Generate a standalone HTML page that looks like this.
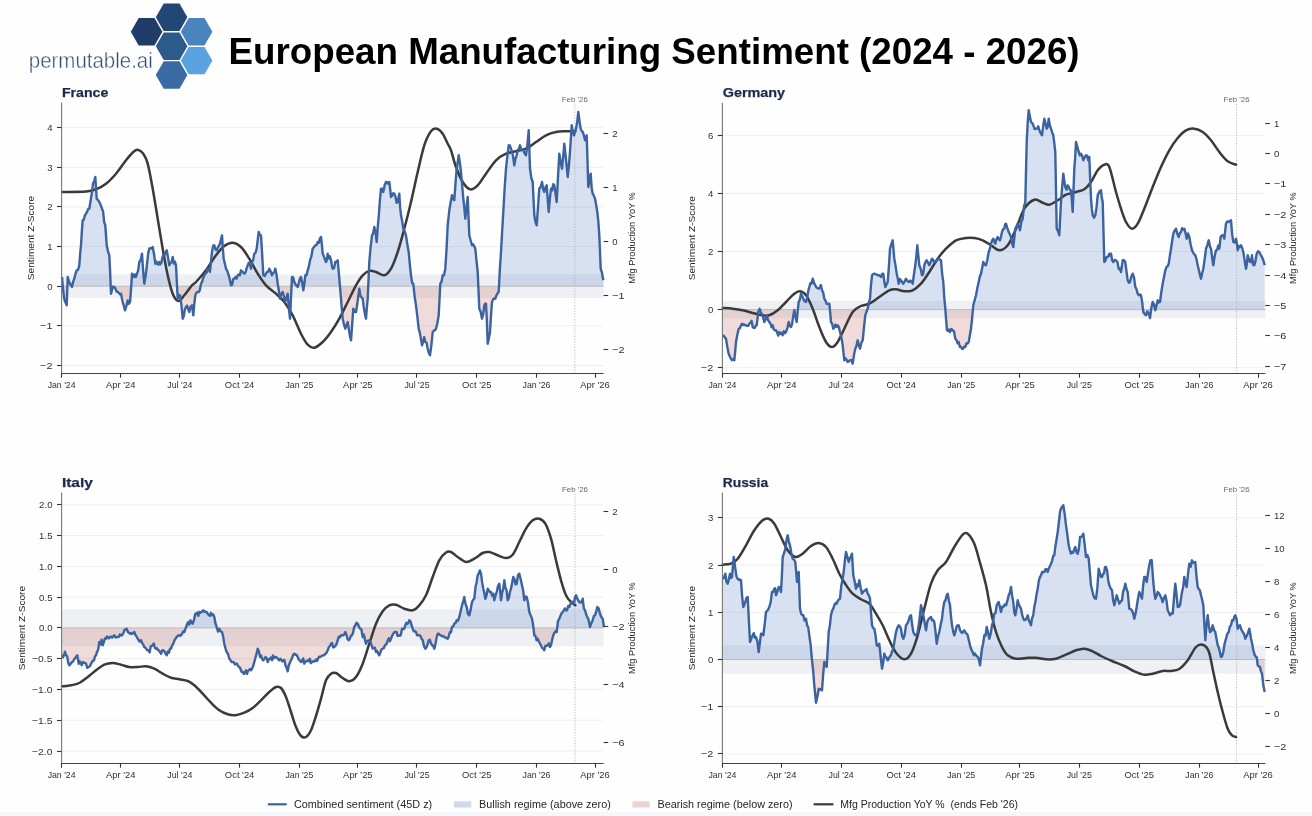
<!DOCTYPE html>
<html><head><meta charset="utf-8"><style>
html,body{margin:0;padding:0;background:#fff;width:1312px;height:816px;overflow:hidden;}
svg{display:block;font-family:"Liberation Sans", sans-serif;will-change:transform;}
</style></head><body>
<svg width="1312" height="816" viewBox="0 0 1312 816">
<rect x="0" y="0" width="1312" height="816" fill="#fefefe"/>
<rect x="0" y="812" width="1312" height="4" fill="#f5f7fc"/>
<text x="28.8" y="68" font-size="21.8" fill="#2c4a72" stroke="#ffffff" stroke-width="0.45" textLength="124" lengthAdjust="spacingAndGlyphs">permutable.ai</text>
<text x="228.6" y="64.2" font-size="37.6" font-weight="bold" fill="#000" textLength="851" lengthAdjust="spacingAndGlyphs">European Manufacturing Sentiment (2024 - 2026)</text>
<line x1="61.6" y1="365.50" x2="603.6" y2="365.50" stroke="#ebebeb" stroke-width="0.8"/>
<line x1="61.6" y1="325.85" x2="603.6" y2="325.85" stroke="#ebebeb" stroke-width="0.8"/>
<line x1="61.6" y1="286.20" x2="603.6" y2="286.20" stroke="#ebebeb" stroke-width="0.8"/>
<line x1="61.6" y1="246.55" x2="603.6" y2="246.55" stroke="#ebebeb" stroke-width="0.8"/>
<line x1="61.6" y1="206.90" x2="603.6" y2="206.90" stroke="#ebebeb" stroke-width="0.8"/>
<line x1="61.6" y1="167.25" x2="603.6" y2="167.25" stroke="#ebebeb" stroke-width="0.8"/>
<line x1="61.6" y1="127.60" x2="603.6" y2="127.60" stroke="#ebebeb" stroke-width="0.8"/>
<rect x="61.6" y="274.31" width="542.00" height="23.79" fill="#eef0f3"/>
<clipPath id="ca_France"><rect x="0" y="0" width="1312" height="286.20"/></clipPath>
<clipPath id="cb_France"><rect x="0" y="286.20" width="1312" height="816"/></clipPath>
<path d="M62.0,286.20 L62.0,277.0 L63.3,292.0 L64.43,299.59 L65.57,302.59 L66.7,305.3 L67.7,277.0 L68.85,280.9 L70.0,283.7 L71.0,285.24 L72.0,287.0 L73.15,281.69 L74.3,278.7 L75.5,273.73 L76.7,270.3 L78.0,269.84 L79.3,265.3 L80.15,253.89 L81.0,245.3 L81.85,231.62 L82.7,220.3 L83.8,219.74 L84.9,215.17 L86.0,213.7 L87.1,211.82 L88.2,208.83 L89.3,208.7 L90.65,200.47 L92.0,192.0 L93.1,183.18 L94.2,181.46 L95.3,177.0 L96.7,198.7 L98.0,200.11 L99.3,202.0 L100.65,204.82 L102.0,208.7 L103.1,211.53 L104.2,222.18 L105.3,225.3 L106.7,245.3 L108.0,251.29 L109.3,255.3 L110.15,272.67 L111.0,293.7 L112.1,289.35 L113.2,286.56 L114.3,287.0 L115.43,288.57 L116.57,291.7 L117.7,292.0 L118.8,292.87 L119.9,294.27 L121.0,293.7 L121.85,298.09 L122.7,302.0 L123.85,305.83 L125.0,310.3 L126.35,306.28 L127.7,300.3 L128.85,303.76 L130.0,302.0 L131.0,289.83 L132.0,273.7 L133.0,274.38 L134.0,277.12 L135.0,274.38 L136.0,277.0 L137.1,273.39 L138.2,270.41 L139.3,262.0 L140.65,259.94 L142.0,253.7 L143.15,271.0 L144.3,283.7 L145.3,278.12 L146.3,270.56 L147.3,261.42 L148.3,252.63 L149.3,248.7 L150.43,248.14 L151.57,248.49 L152.7,247.0 L154.0,254.03 L155.3,263.7 L156.3,261.43 L157.3,263.78 L158.3,264.64 L159.3,262.0 L160.3,264.37 L161.3,262.91 L162.3,258.06 L163.3,254.62 L164.3,255.3 L165.5,253.13 L166.7,250.3 L168.0,257.37 L169.3,265.3 L170.43,263.07 L171.57,262.09 L172.7,257.0 L173.8,263.5 L174.9,261.56 L176.0,265.3 L176.85,282.26 L177.7,298.7 L178.85,295.01 L180.0,295.3 L181.35,304.51 L182.7,318.7 L183.8,316.11 L184.9,309.2 L186.0,307.0 L187.1,305.6 L188.2,309.32 L189.3,312.0 L190.65,306.44 L192.0,305.3 L193.3,315.3 L194.3,303.88 L195.3,295.3 L196.43,292.84 L197.57,292.05 L198.7,292.0 L199.85,290.15 L201.0,283.7 L202.1,281.6 L203.2,277.98 L204.3,275.3 L205.43,273.52 L206.57,272.65 L207.7,268.7 L208.85,269.62 L210.0,272.0 L211.0,261.1 L212.0,252.0 L213.15,245.61 L214.3,245.3 L215.5,249.47 L216.7,250.3 L218.0,247.08 L219.3,245.3 L220.65,241.19 L222.0,235.3 L222.85,248.63 L223.7,258.7 L224.85,263.74 L226.0,268.7 L227.35,271.06 L228.7,275.3 L229.85,279.8 L231.0,285.3 L232.1,284.67 L233.2,279.03 L234.3,278.7 L235.43,277.09 L236.57,278.5 L237.7,275.3 L238.8,274.53 L239.9,275.33 L241.0,270.3 L242.1,271.3 L243.2,272.56 L244.3,273.7 L245.43,272.71 L246.57,268.4 L247.7,265.3 L248.8,262.71 L249.9,264.65 L251.0,268.7 L252.1,262.22 L253.2,259.88 L254.3,253.7 L255.5,252.86 L256.7,248.7 L257.7,240.1 L258.7,232.0 L259.85,234.94 L261.0,235.3 L262.15,254.01 L263.3,275.3 L264.65,276.07 L266.0,273.7 L267.1,271.97 L268.2,271.76 L269.3,268.7 L270.65,271.29 L272.0,275.3 L273.1,273.09 L274.2,272.35 L275.3,268.7 L276.5,274.5 L277.7,283.7 L278.85,290.74 L280.0,298.7 L281.35,293.72 L282.7,292.0 L284.0,296.83 L285.3,302.0 L286.5,297.59 L287.7,293.7 L288.85,308.01 L290.0,318.7 L291.0,297.64 L292.0,277.0 L293.15,277.31 L294.3,282.0 L295.43,284.1 L296.57,285.76 L297.7,287.0 L298.8,282.98 L299.9,278.44 L301.0,277.0 L302.15,282.44 L303.3,290.3 L304.3,284.43 L305.3,275.3 L306.5,275.21 L307.7,270.3 L308.85,266.65 L310.0,260.3 L311.35,256.36 L312.7,248.7 L314.0,247.08 L315.3,245.3 L316.5,245.04 L317.7,242.0 L318.8,242.84 L319.9,238.41 L321.0,237.0 L321.85,244.38 L322.7,253.7 L323.8,256.13 L324.9,259.24 L326.0,262.0 L326.85,260.17 L327.7,253.7 L328.8,258.36 L329.9,256.27 L331.0,260.3 L331.85,265.46 L332.7,268.7 L334.0,268.25 L335.3,262.0 L336.5,261.65 L337.7,260.3 L339.3,278.7 L340.15,288.39 L341.0,298.7 L341.85,309.21 L342.7,318.7 L344.0,324.7 L345.3,328.7 L346.5,325.17 L347.7,322.0 L348.8,329.1 L349.9,335.84 L351.0,340.3 L352.15,324.9 L353.3,308.7 L354.65,311.77 L356.0,312.0 L357.1,304.97 L358.2,297.19 L359.3,288.7 L360.43,295.9 L361.57,297.34 L362.7,298.7 L363.8,307.44 L364.9,313.73 L366.0,318.7 L366.85,307.98 L367.7,298.7 L369.3,262.0 L370.65,246.79 L372.0,235.3 L373.15,233.34 L374.3,227.0 L375.5,232.35 L376.7,242.0 L377.7,227.41 L378.7,217.0 L379.85,201.08 L381.0,188.7 L382.15,188.75 L383.3,192.0 L384.65,185.3 L386.0,182.0 L387.1,182.23 L388.2,183.72 L389.3,182.0 L390.15,188.91 L391.0,197.0 L392.1,195.64 L393.2,193.23 L394.3,193.7 L395.43,196.36 L396.57,202.8 L397.7,202.0 L399.3,193.7 L400.15,207.68 L401.0,215.3 L402.15,221.08 L403.3,228.7 L404.65,231.28 L406.0,235.3 L407.35,244.58 L408.7,252.0 L409.85,264.67 L411.0,275.3 L412.15,283.01 L413.3,283.7 L414.65,296.64 L416.0,305.3 L417.35,316.58 L418.7,328.7 L419.8,332.6 L420.9,338.62 L422.0,345.3 L423.1,342.18 L424.2,337.13 L425.3,342.0 L426.5,342.61 L427.7,348.7 L428.85,352.89 L430.0,355.3 L431.35,345.48 L432.7,332.0 L433.8,330.64 L434.9,330.26 L436.0,328.7 L437.35,323.18 L438.7,315.3 L440.3,283.7 L441.5,281.75 L442.7,275.3 L444.0,275.33 L445.3,268.7 L446.5,249.63 L447.7,225.3 L449.3,210.3 L450.65,202.54 L452.0,195.3 L453.15,198.38 L454.3,200.3 L455.5,183.19 L456.7,168.7 L457.7,162.2 L458.7,155.3 L459.85,162.44 L461.0,172.0 L462.15,185.4 L463.3,198.7 L464.3,207.69 L465.3,218.7 L466.5,208.19 L467.7,197.0 L469.3,235.3 L470.65,240.45 L472.0,245.3 L473.1,244.36 L474.2,245.95 L475.3,248.7 L476.5,260.92 L477.7,272.0 L479.3,308.7 L480.65,311.63 L482.0,318.7 L483.15,314.86 L484.3,305.3 L485.15,303.63 L486.0,303.7 L486.85,320.13 L487.7,343.7 L488.85,338.59 L490.0,332.0 L491.0,315.63 L492.0,302.0 L493.1,299.35 L494.2,298.32 L495.3,298.7 L496.43,295.33 L497.57,293.36 L498.7,292.0 L499.85,269.25 L501.0,252.0 L502.15,231.47 L503.3,212.0 L504.65,188.28 L506.0,168.7 L507.35,156.21 L508.7,145.3 L509.85,145.54 L511.0,148.7 L512.1,151.96 L513.2,157.06 L514.3,165.3 L515.5,158.57 L516.7,155.3 L517.8,149.8 L518.9,149.16 L520.0,145.3 L521.1,149.35 L522.2,149.47 L523.3,150.3 L524.65,153.48 L526.0,155.3 L527.35,145.37 L528.7,130.3 L530.0,168.7 L531.35,178.06 L532.7,182.0 L534.3,215.3 L535.5,222.11 L536.7,225.3 L538.0,207.09 L539.3,188.7 L540.65,187.1 L542.0,182.0 L543.15,189.06 L544.3,192.0 L545.5,187.24 L546.7,185.3 L547.7,199.23 L548.7,212.0 L549.85,198.77 L551.0,188.7 L552.1,190.44 L553.2,184.19 L554.3,185.3 L555.5,193.66 L556.7,202.0 L558.0,177.05 L559.3,153.7 L560.65,161.94 L562.0,168.7 L563.15,157.46 L564.3,143.7 L565.43,154.15 L566.57,165.3 L567.7,177.0 L568.85,166.22 L570.0,152.0 L570.85,139.17 L571.7,125.3 L572.85,131.3 L574.0,135.3 L575.0,132.18 L576.0,128.7 L577.15,122.32 L578.3,112.0 L579.5,121.22 L580.7,128.7 L581.7,131.17 L582.7,132.0 L583.85,135.23 L585.0,140.3 L585.85,138.26 L586.7,135.3 L588.3,187.0 L589.5,180.35 L590.7,173.7 L591.7,188.56 L592.7,193.7 L593.85,195.68 L595.0,198.7 L596.15,204.78 L597.3,212.0 L598.3,221.13 L599.3,235.3 L600.7,268.7 L602.0,272.96 L603.3,280.3 L603.3,286.20 Z" fill="#3f6cc0" fill-opacity="0.2" clip-path="url(#ca_France)"/>
<path d="M62.0,286.20 L62.0,277.0 L63.3,292.0 L64.43,299.59 L65.57,302.59 L66.7,305.3 L67.7,277.0 L68.85,280.9 L70.0,283.7 L71.0,285.24 L72.0,287.0 L73.15,281.69 L74.3,278.7 L75.5,273.73 L76.7,270.3 L78.0,269.84 L79.3,265.3 L80.15,253.89 L81.0,245.3 L81.85,231.62 L82.7,220.3 L83.8,219.74 L84.9,215.17 L86.0,213.7 L87.1,211.82 L88.2,208.83 L89.3,208.7 L90.65,200.47 L92.0,192.0 L93.1,183.18 L94.2,181.46 L95.3,177.0 L96.7,198.7 L98.0,200.11 L99.3,202.0 L100.65,204.82 L102.0,208.7 L103.1,211.53 L104.2,222.18 L105.3,225.3 L106.7,245.3 L108.0,251.29 L109.3,255.3 L110.15,272.67 L111.0,293.7 L112.1,289.35 L113.2,286.56 L114.3,287.0 L115.43,288.57 L116.57,291.7 L117.7,292.0 L118.8,292.87 L119.9,294.27 L121.0,293.7 L121.85,298.09 L122.7,302.0 L123.85,305.83 L125.0,310.3 L126.35,306.28 L127.7,300.3 L128.85,303.76 L130.0,302.0 L131.0,289.83 L132.0,273.7 L133.0,274.38 L134.0,277.12 L135.0,274.38 L136.0,277.0 L137.1,273.39 L138.2,270.41 L139.3,262.0 L140.65,259.94 L142.0,253.7 L143.15,271.0 L144.3,283.7 L145.3,278.12 L146.3,270.56 L147.3,261.42 L148.3,252.63 L149.3,248.7 L150.43,248.14 L151.57,248.49 L152.7,247.0 L154.0,254.03 L155.3,263.7 L156.3,261.43 L157.3,263.78 L158.3,264.64 L159.3,262.0 L160.3,264.37 L161.3,262.91 L162.3,258.06 L163.3,254.62 L164.3,255.3 L165.5,253.13 L166.7,250.3 L168.0,257.37 L169.3,265.3 L170.43,263.07 L171.57,262.09 L172.7,257.0 L173.8,263.5 L174.9,261.56 L176.0,265.3 L176.85,282.26 L177.7,298.7 L178.85,295.01 L180.0,295.3 L181.35,304.51 L182.7,318.7 L183.8,316.11 L184.9,309.2 L186.0,307.0 L187.1,305.6 L188.2,309.32 L189.3,312.0 L190.65,306.44 L192.0,305.3 L193.3,315.3 L194.3,303.88 L195.3,295.3 L196.43,292.84 L197.57,292.05 L198.7,292.0 L199.85,290.15 L201.0,283.7 L202.1,281.6 L203.2,277.98 L204.3,275.3 L205.43,273.52 L206.57,272.65 L207.7,268.7 L208.85,269.62 L210.0,272.0 L211.0,261.1 L212.0,252.0 L213.15,245.61 L214.3,245.3 L215.5,249.47 L216.7,250.3 L218.0,247.08 L219.3,245.3 L220.65,241.19 L222.0,235.3 L222.85,248.63 L223.7,258.7 L224.85,263.74 L226.0,268.7 L227.35,271.06 L228.7,275.3 L229.85,279.8 L231.0,285.3 L232.1,284.67 L233.2,279.03 L234.3,278.7 L235.43,277.09 L236.57,278.5 L237.7,275.3 L238.8,274.53 L239.9,275.33 L241.0,270.3 L242.1,271.3 L243.2,272.56 L244.3,273.7 L245.43,272.71 L246.57,268.4 L247.7,265.3 L248.8,262.71 L249.9,264.65 L251.0,268.7 L252.1,262.22 L253.2,259.88 L254.3,253.7 L255.5,252.86 L256.7,248.7 L257.7,240.1 L258.7,232.0 L259.85,234.94 L261.0,235.3 L262.15,254.01 L263.3,275.3 L264.65,276.07 L266.0,273.7 L267.1,271.97 L268.2,271.76 L269.3,268.7 L270.65,271.29 L272.0,275.3 L273.1,273.09 L274.2,272.35 L275.3,268.7 L276.5,274.5 L277.7,283.7 L278.85,290.74 L280.0,298.7 L281.35,293.72 L282.7,292.0 L284.0,296.83 L285.3,302.0 L286.5,297.59 L287.7,293.7 L288.85,308.01 L290.0,318.7 L291.0,297.64 L292.0,277.0 L293.15,277.31 L294.3,282.0 L295.43,284.1 L296.57,285.76 L297.7,287.0 L298.8,282.98 L299.9,278.44 L301.0,277.0 L302.15,282.44 L303.3,290.3 L304.3,284.43 L305.3,275.3 L306.5,275.21 L307.7,270.3 L308.85,266.65 L310.0,260.3 L311.35,256.36 L312.7,248.7 L314.0,247.08 L315.3,245.3 L316.5,245.04 L317.7,242.0 L318.8,242.84 L319.9,238.41 L321.0,237.0 L321.85,244.38 L322.7,253.7 L323.8,256.13 L324.9,259.24 L326.0,262.0 L326.85,260.17 L327.7,253.7 L328.8,258.36 L329.9,256.27 L331.0,260.3 L331.85,265.46 L332.7,268.7 L334.0,268.25 L335.3,262.0 L336.5,261.65 L337.7,260.3 L339.3,278.7 L340.15,288.39 L341.0,298.7 L341.85,309.21 L342.7,318.7 L344.0,324.7 L345.3,328.7 L346.5,325.17 L347.7,322.0 L348.8,329.1 L349.9,335.84 L351.0,340.3 L352.15,324.9 L353.3,308.7 L354.65,311.77 L356.0,312.0 L357.1,304.97 L358.2,297.19 L359.3,288.7 L360.43,295.9 L361.57,297.34 L362.7,298.7 L363.8,307.44 L364.9,313.73 L366.0,318.7 L366.85,307.98 L367.7,298.7 L369.3,262.0 L370.65,246.79 L372.0,235.3 L373.15,233.34 L374.3,227.0 L375.5,232.35 L376.7,242.0 L377.7,227.41 L378.7,217.0 L379.85,201.08 L381.0,188.7 L382.15,188.75 L383.3,192.0 L384.65,185.3 L386.0,182.0 L387.1,182.23 L388.2,183.72 L389.3,182.0 L390.15,188.91 L391.0,197.0 L392.1,195.64 L393.2,193.23 L394.3,193.7 L395.43,196.36 L396.57,202.8 L397.7,202.0 L399.3,193.7 L400.15,207.68 L401.0,215.3 L402.15,221.08 L403.3,228.7 L404.65,231.28 L406.0,235.3 L407.35,244.58 L408.7,252.0 L409.85,264.67 L411.0,275.3 L412.15,283.01 L413.3,283.7 L414.65,296.64 L416.0,305.3 L417.35,316.58 L418.7,328.7 L419.8,332.6 L420.9,338.62 L422.0,345.3 L423.1,342.18 L424.2,337.13 L425.3,342.0 L426.5,342.61 L427.7,348.7 L428.85,352.89 L430.0,355.3 L431.35,345.48 L432.7,332.0 L433.8,330.64 L434.9,330.26 L436.0,328.7 L437.35,323.18 L438.7,315.3 L440.3,283.7 L441.5,281.75 L442.7,275.3 L444.0,275.33 L445.3,268.7 L446.5,249.63 L447.7,225.3 L449.3,210.3 L450.65,202.54 L452.0,195.3 L453.15,198.38 L454.3,200.3 L455.5,183.19 L456.7,168.7 L457.7,162.2 L458.7,155.3 L459.85,162.44 L461.0,172.0 L462.15,185.4 L463.3,198.7 L464.3,207.69 L465.3,218.7 L466.5,208.19 L467.7,197.0 L469.3,235.3 L470.65,240.45 L472.0,245.3 L473.1,244.36 L474.2,245.95 L475.3,248.7 L476.5,260.92 L477.7,272.0 L479.3,308.7 L480.65,311.63 L482.0,318.7 L483.15,314.86 L484.3,305.3 L485.15,303.63 L486.0,303.7 L486.85,320.13 L487.7,343.7 L488.85,338.59 L490.0,332.0 L491.0,315.63 L492.0,302.0 L493.1,299.35 L494.2,298.32 L495.3,298.7 L496.43,295.33 L497.57,293.36 L498.7,292.0 L499.85,269.25 L501.0,252.0 L502.15,231.47 L503.3,212.0 L504.65,188.28 L506.0,168.7 L507.35,156.21 L508.7,145.3 L509.85,145.54 L511.0,148.7 L512.1,151.96 L513.2,157.06 L514.3,165.3 L515.5,158.57 L516.7,155.3 L517.8,149.8 L518.9,149.16 L520.0,145.3 L521.1,149.35 L522.2,149.47 L523.3,150.3 L524.65,153.48 L526.0,155.3 L527.35,145.37 L528.7,130.3 L530.0,168.7 L531.35,178.06 L532.7,182.0 L534.3,215.3 L535.5,222.11 L536.7,225.3 L538.0,207.09 L539.3,188.7 L540.65,187.1 L542.0,182.0 L543.15,189.06 L544.3,192.0 L545.5,187.24 L546.7,185.3 L547.7,199.23 L548.7,212.0 L549.85,198.77 L551.0,188.7 L552.1,190.44 L553.2,184.19 L554.3,185.3 L555.5,193.66 L556.7,202.0 L558.0,177.05 L559.3,153.7 L560.65,161.94 L562.0,168.7 L563.15,157.46 L564.3,143.7 L565.43,154.15 L566.57,165.3 L567.7,177.0 L568.85,166.22 L570.0,152.0 L570.85,139.17 L571.7,125.3 L572.85,131.3 L574.0,135.3 L575.0,132.18 L576.0,128.7 L577.15,122.32 L578.3,112.0 L579.5,121.22 L580.7,128.7 L581.7,131.17 L582.7,132.0 L583.85,135.23 L585.0,140.3 L585.85,138.26 L586.7,135.3 L588.3,187.0 L589.5,180.35 L590.7,173.7 L591.7,188.56 L592.7,193.7 L593.85,195.68 L595.0,198.7 L596.15,204.78 L597.3,212.0 L598.3,221.13 L599.3,235.3 L600.7,268.7 L602.0,272.96 L603.3,280.3 L603.3,286.20 Z" fill="#c0504d" fill-opacity="0.2" clip-path="url(#cb_France)"/>
<line x1="61.6" y1="286.20" x2="603.6" y2="286.20" stroke="#b9b4bb" stroke-width="0.9"/>
<line x1="574.8" y1="103.5" x2="574.8" y2="373.5" stroke="#aaaaaa" stroke-width="0.8" stroke-dasharray="1.2,1.6"/>
<text x="574.80" y="101.70" font-size="7.6" fill="#666" text-anchor="middle" textLength="26.00" lengthAdjust="spacingAndGlyphs" >Feb '26</text>
<path d="M62.00,192.00 C66.00,191.92 80.33,191.95 86.00,191.50 C91.67,191.05 92.67,190.60 96.00,189.30 C99.33,188.00 102.67,186.30 106.00,183.70 C109.33,181.10 112.67,177.60 116.00,173.70 C119.33,169.80 123.12,163.92 126.00,160.30 C128.88,156.68 131.35,153.77 133.30,152.00 C135.25,150.23 136.03,149.42 137.70,149.70 C139.37,149.98 141.63,151.37 143.30,153.70 C144.97,156.03 146.13,157.87 147.70,163.70 C149.27,169.53 151.03,179.53 152.70,188.70 C154.37,197.87 156.03,208.70 157.70,218.70 C159.37,228.70 161.03,239.27 162.70,248.70 C164.37,258.13 166.03,267.80 167.70,275.30 C169.37,282.80 170.93,289.42 172.70,293.70 C174.47,297.98 176.37,300.73 178.30,301.00 C180.23,301.27 182.02,297.92 184.30,295.30 C186.58,292.68 190.05,287.52 192.00,285.30 C193.95,283.08 193.67,284.50 196.00,282.00 C198.33,279.50 202.67,274.75 206.00,270.30 C209.33,265.85 212.95,259.35 216.00,255.30 C219.05,251.25 221.52,248.10 224.30,246.00 C227.08,243.90 229.92,242.53 232.70,242.70 C235.48,242.87 238.23,244.33 241.00,247.00 C243.77,249.67 246.52,254.25 249.30,258.70 C252.08,263.15 254.92,269.27 257.70,273.70 C260.48,278.13 262.95,281.97 266.00,285.30 C269.05,288.63 272.95,290.92 276.00,293.70 C279.05,296.48 281.52,298.40 284.30,302.00 C287.08,305.60 289.92,310.02 292.70,315.30 C295.48,320.58 298.50,328.80 301.00,333.70 C303.50,338.60 305.48,342.37 307.70,344.70 C309.92,347.03 311.80,348.15 314.30,347.70 C316.80,347.25 319.92,344.62 322.70,342.00 C325.48,339.38 328.23,335.88 331.00,332.00 C333.77,328.12 336.52,323.70 339.30,318.70 C342.08,313.70 344.92,307.57 347.70,302.00 C350.48,296.43 353.50,289.75 356.00,285.30 C358.50,280.85 360.48,277.68 362.70,275.30 C364.92,272.92 367.08,271.55 369.30,271.00 C371.52,270.45 373.50,271.28 376.00,272.00 C378.50,272.72 381.80,275.85 384.30,275.30 C386.80,274.75 388.77,272.58 391.00,268.70 C393.23,264.82 395.48,258.67 397.70,252.00 C399.92,245.33 402.08,237.03 404.30,228.70 C406.52,220.37 408.77,211.45 411.00,202.00 C413.23,192.55 415.48,181.45 417.70,172.00 C419.92,162.55 422.08,152.08 424.30,145.30 C426.52,138.52 428.93,134.07 431.00,131.30 C433.07,128.53 434.75,128.30 436.70,128.70 C438.65,129.10 440.87,131.20 442.70,133.70 C444.53,136.20 446.32,140.93 447.70,143.70 C449.08,146.47 449.62,146.42 451.00,150.30 C452.38,154.18 454.05,161.72 456.00,167.00 C457.95,172.28 460.37,178.28 462.70,182.00 C465.03,185.72 467.50,188.75 470.00,189.30 C472.50,189.85 475.03,187.90 477.70,185.30 C480.37,182.70 482.95,177.87 486.00,173.70 C489.05,169.53 492.67,163.63 496.00,160.30 C499.33,156.97 502.67,155.20 506.00,153.70 C509.33,152.20 512.67,152.13 516.00,151.30 C519.33,150.47 522.67,150.25 526.00,148.70 C529.33,147.15 532.67,144.23 536.00,142.00 C539.33,139.77 542.67,136.97 546.00,135.30 C549.33,133.63 552.67,132.67 556.00,132.00 C559.33,131.33 562.78,131.42 566.00,131.30 C569.22,131.18 573.75,131.30 575.30,131.30" fill="none" stroke="#3a3a3a" stroke-width="2.5" stroke-linejoin="round" stroke-linecap="round"/>
<path d="M62.0,277.0 L63.3,292.0 L64.43,299.59 L65.57,302.59 L66.7,305.3 L67.7,277.0 L68.85,280.9 L70.0,283.7 L71.0,285.24 L72.0,287.0 L73.15,281.69 L74.3,278.7 L75.5,273.73 L76.7,270.3 L78.0,269.84 L79.3,265.3 L80.15,253.89 L81.0,245.3 L81.85,231.62 L82.7,220.3 L83.8,219.74 L84.9,215.17 L86.0,213.7 L87.1,211.82 L88.2,208.83 L89.3,208.7 L90.65,200.47 L92.0,192.0 L93.1,183.18 L94.2,181.46 L95.3,177.0 L96.7,198.7 L98.0,200.11 L99.3,202.0 L100.65,204.82 L102.0,208.7 L103.1,211.53 L104.2,222.18 L105.3,225.3 L106.7,245.3 L108.0,251.29 L109.3,255.3 L110.15,272.67 L111.0,293.7 L112.1,289.35 L113.2,286.56 L114.3,287.0 L115.43,288.57 L116.57,291.7 L117.7,292.0 L118.8,292.87 L119.9,294.27 L121.0,293.7 L121.85,298.09 L122.7,302.0 L123.85,305.83 L125.0,310.3 L126.35,306.28 L127.7,300.3 L128.85,303.76 L130.0,302.0 L131.0,289.83 L132.0,273.7 L133.0,274.38 L134.0,277.12 L135.0,274.38 L136.0,277.0 L137.1,273.39 L138.2,270.41 L139.3,262.0 L140.65,259.94 L142.0,253.7 L143.15,271.0 L144.3,283.7 L145.3,278.12 L146.3,270.56 L147.3,261.42 L148.3,252.63 L149.3,248.7 L150.43,248.14 L151.57,248.49 L152.7,247.0 L154.0,254.03 L155.3,263.7 L156.3,261.43 L157.3,263.78 L158.3,264.64 L159.3,262.0 L160.3,264.37 L161.3,262.91 L162.3,258.06 L163.3,254.62 L164.3,255.3 L165.5,253.13 L166.7,250.3 L168.0,257.37 L169.3,265.3 L170.43,263.07 L171.57,262.09 L172.7,257.0 L173.8,263.5 L174.9,261.56 L176.0,265.3 L176.85,282.26 L177.7,298.7 L178.85,295.01 L180.0,295.3 L181.35,304.51 L182.7,318.7 L183.8,316.11 L184.9,309.2 L186.0,307.0 L187.1,305.6 L188.2,309.32 L189.3,312.0 L190.65,306.44 L192.0,305.3 L193.3,315.3 L194.3,303.88 L195.3,295.3 L196.43,292.84 L197.57,292.05 L198.7,292.0 L199.85,290.15 L201.0,283.7 L202.1,281.6 L203.2,277.98 L204.3,275.3 L205.43,273.52 L206.57,272.65 L207.7,268.7 L208.85,269.62 L210.0,272.0 L211.0,261.1 L212.0,252.0 L213.15,245.61 L214.3,245.3 L215.5,249.47 L216.7,250.3 L218.0,247.08 L219.3,245.3 L220.65,241.19 L222.0,235.3 L222.85,248.63 L223.7,258.7 L224.85,263.74 L226.0,268.7 L227.35,271.06 L228.7,275.3 L229.85,279.8 L231.0,285.3 L232.1,284.67 L233.2,279.03 L234.3,278.7 L235.43,277.09 L236.57,278.5 L237.7,275.3 L238.8,274.53 L239.9,275.33 L241.0,270.3 L242.1,271.3 L243.2,272.56 L244.3,273.7 L245.43,272.71 L246.57,268.4 L247.7,265.3 L248.8,262.71 L249.9,264.65 L251.0,268.7 L252.1,262.22 L253.2,259.88 L254.3,253.7 L255.5,252.86 L256.7,248.7 L257.7,240.1 L258.7,232.0 L259.85,234.94 L261.0,235.3 L262.15,254.01 L263.3,275.3 L264.65,276.07 L266.0,273.7 L267.1,271.97 L268.2,271.76 L269.3,268.7 L270.65,271.29 L272.0,275.3 L273.1,273.09 L274.2,272.35 L275.3,268.7 L276.5,274.5 L277.7,283.7 L278.85,290.74 L280.0,298.7 L281.35,293.72 L282.7,292.0 L284.0,296.83 L285.3,302.0 L286.5,297.59 L287.7,293.7 L288.85,308.01 L290.0,318.7 L291.0,297.64 L292.0,277.0 L293.15,277.31 L294.3,282.0 L295.43,284.1 L296.57,285.76 L297.7,287.0 L298.8,282.98 L299.9,278.44 L301.0,277.0 L302.15,282.44 L303.3,290.3 L304.3,284.43 L305.3,275.3 L306.5,275.21 L307.7,270.3 L308.85,266.65 L310.0,260.3 L311.35,256.36 L312.7,248.7 L314.0,247.08 L315.3,245.3 L316.5,245.04 L317.7,242.0 L318.8,242.84 L319.9,238.41 L321.0,237.0 L321.85,244.38 L322.7,253.7 L323.8,256.13 L324.9,259.24 L326.0,262.0 L326.85,260.17 L327.7,253.7 L328.8,258.36 L329.9,256.27 L331.0,260.3 L331.85,265.46 L332.7,268.7 L334.0,268.25 L335.3,262.0 L336.5,261.65 L337.7,260.3 L339.3,278.7 L340.15,288.39 L341.0,298.7 L341.85,309.21 L342.7,318.7 L344.0,324.7 L345.3,328.7 L346.5,325.17 L347.7,322.0 L348.8,329.1 L349.9,335.84 L351.0,340.3 L352.15,324.9 L353.3,308.7 L354.65,311.77 L356.0,312.0 L357.1,304.97 L358.2,297.19 L359.3,288.7 L360.43,295.9 L361.57,297.34 L362.7,298.7 L363.8,307.44 L364.9,313.73 L366.0,318.7 L366.85,307.98 L367.7,298.7 L369.3,262.0 L370.65,246.79 L372.0,235.3 L373.15,233.34 L374.3,227.0 L375.5,232.35 L376.7,242.0 L377.7,227.41 L378.7,217.0 L379.85,201.08 L381.0,188.7 L382.15,188.75 L383.3,192.0 L384.65,185.3 L386.0,182.0 L387.1,182.23 L388.2,183.72 L389.3,182.0 L390.15,188.91 L391.0,197.0 L392.1,195.64 L393.2,193.23 L394.3,193.7 L395.43,196.36 L396.57,202.8 L397.7,202.0 L399.3,193.7 L400.15,207.68 L401.0,215.3 L402.15,221.08 L403.3,228.7 L404.65,231.28 L406.0,235.3 L407.35,244.58 L408.7,252.0 L409.85,264.67 L411.0,275.3 L412.15,283.01 L413.3,283.7 L414.65,296.64 L416.0,305.3 L417.35,316.58 L418.7,328.7 L419.8,332.6 L420.9,338.62 L422.0,345.3 L423.1,342.18 L424.2,337.13 L425.3,342.0 L426.5,342.61 L427.7,348.7 L428.85,352.89 L430.0,355.3 L431.35,345.48 L432.7,332.0 L433.8,330.64 L434.9,330.26 L436.0,328.7 L437.35,323.18 L438.7,315.3 L440.3,283.7 L441.5,281.75 L442.7,275.3 L444.0,275.33 L445.3,268.7 L446.5,249.63 L447.7,225.3 L449.3,210.3 L450.65,202.54 L452.0,195.3 L453.15,198.38 L454.3,200.3 L455.5,183.19 L456.7,168.7 L457.7,162.2 L458.7,155.3 L459.85,162.44 L461.0,172.0 L462.15,185.4 L463.3,198.7 L464.3,207.69 L465.3,218.7 L466.5,208.19 L467.7,197.0 L469.3,235.3 L470.65,240.45 L472.0,245.3 L473.1,244.36 L474.2,245.95 L475.3,248.7 L476.5,260.92 L477.7,272.0 L479.3,308.7 L480.65,311.63 L482.0,318.7 L483.15,314.86 L484.3,305.3 L485.15,303.63 L486.0,303.7 L486.85,320.13 L487.7,343.7 L488.85,338.59 L490.0,332.0 L491.0,315.63 L492.0,302.0 L493.1,299.35 L494.2,298.32 L495.3,298.7 L496.43,295.33 L497.57,293.36 L498.7,292.0 L499.85,269.25 L501.0,252.0 L502.15,231.47 L503.3,212.0 L504.65,188.28 L506.0,168.7 L507.35,156.21 L508.7,145.3 L509.85,145.54 L511.0,148.7 L512.1,151.96 L513.2,157.06 L514.3,165.3 L515.5,158.57 L516.7,155.3 L517.8,149.8 L518.9,149.16 L520.0,145.3 L521.1,149.35 L522.2,149.47 L523.3,150.3 L524.65,153.48 L526.0,155.3 L527.35,145.37 L528.7,130.3 L530.0,168.7 L531.35,178.06 L532.7,182.0 L534.3,215.3 L535.5,222.11 L536.7,225.3 L538.0,207.09 L539.3,188.7 L540.65,187.1 L542.0,182.0 L543.15,189.06 L544.3,192.0 L545.5,187.24 L546.7,185.3 L547.7,199.23 L548.7,212.0 L549.85,198.77 L551.0,188.7 L552.1,190.44 L553.2,184.19 L554.3,185.3 L555.5,193.66 L556.7,202.0 L558.0,177.05 L559.3,153.7 L560.65,161.94 L562.0,168.7 L563.15,157.46 L564.3,143.7 L565.43,154.15 L566.57,165.3 L567.7,177.0 L568.85,166.22 L570.0,152.0 L570.85,139.17 L571.7,125.3 L572.85,131.3 L574.0,135.3 L575.0,132.18 L576.0,128.7 L577.15,122.32 L578.3,112.0 L579.5,121.22 L580.7,128.7 L581.7,131.17 L582.7,132.0 L583.85,135.23 L585.0,140.3 L585.85,138.26 L586.7,135.3 L588.3,187.0 L589.5,180.35 L590.7,173.7 L591.7,188.56 L592.7,193.7 L593.85,195.68 L595.0,198.7 L596.15,204.78 L597.3,212.0 L598.3,221.13 L599.3,235.3 L600.7,268.7 L602.0,272.96 L603.3,280.3" fill="none" stroke="#3b63a0" stroke-width="2.4" stroke-linejoin="round"/>
<line x1="61.6" y1="102.5" x2="61.6" y2="373.5" stroke="#777" stroke-width="1.1"/>
<line x1="61.1" y1="373.5" x2="603.6" y2="373.5" stroke="#444" stroke-width="1.1"/>
<line x1="57.00" y1="365.5" x2="61.6" y2="365.5" stroke="#333" stroke-width="1.1"/>
<text x="52.50" y="369.00" font-size="9.6" fill="#303030" text-anchor="end" textLength="12.38" lengthAdjust="spacingAndGlyphs" >−2</text>
<line x1="57.00" y1="325.5" x2="61.6" y2="325.5" stroke="#333" stroke-width="1.1"/>
<text x="52.50" y="329.35" font-size="9.6" fill="#303030" text-anchor="end" textLength="12.38" lengthAdjust="spacingAndGlyphs" >−1</text>
<line x1="57.00" y1="286.5" x2="61.6" y2="286.5" stroke="#333" stroke-width="1.1"/>
<text x="52.50" y="289.70" font-size="9.6" fill="#303030" text-anchor="end" textLength="5.34" lengthAdjust="spacingAndGlyphs" >0</text>
<line x1="57.00" y1="246.5" x2="61.6" y2="246.5" stroke="#333" stroke-width="1.1"/>
<text x="52.50" y="250.05" font-size="9.6" fill="#303030" text-anchor="end" textLength="5.34" lengthAdjust="spacingAndGlyphs" >1</text>
<line x1="57.00" y1="206.5" x2="61.6" y2="206.5" stroke="#333" stroke-width="1.1"/>
<text x="52.50" y="210.40" font-size="9.6" fill="#303030" text-anchor="end" textLength="5.34" lengthAdjust="spacingAndGlyphs" >2</text>
<line x1="57.00" y1="167.5" x2="61.6" y2="167.5" stroke="#333" stroke-width="1.1"/>
<text x="52.50" y="170.75" font-size="9.6" fill="#303030" text-anchor="end" textLength="5.34" lengthAdjust="spacingAndGlyphs" >3</text>
<line x1="57.00" y1="127.5" x2="61.6" y2="127.5" stroke="#333" stroke-width="1.1"/>
<text x="52.50" y="131.10" font-size="9.6" fill="#303030" text-anchor="end" textLength="5.34" lengthAdjust="spacingAndGlyphs" >4</text>
<line x1="603.6" y1="349.5" x2="608.20" y2="349.5" stroke="#333" stroke-width="1.1"/>
<text x="612.20" y="353.40" font-size="9.6" fill="#303030" textLength="12.38" lengthAdjust="spacingAndGlyphs" >−2</text>
<line x1="603.6" y1="295.5" x2="608.20" y2="295.5" stroke="#333" stroke-width="1.1"/>
<text x="612.20" y="299.35" font-size="9.6" fill="#303030" textLength="12.38" lengthAdjust="spacingAndGlyphs" >−1</text>
<line x1="603.6" y1="241.5" x2="608.20" y2="241.5" stroke="#333" stroke-width="1.1"/>
<text x="612.20" y="245.30" font-size="9.6" fill="#303030" textLength="5.34" lengthAdjust="spacingAndGlyphs" >0</text>
<line x1="603.6" y1="187.5" x2="608.20" y2="187.5" stroke="#333" stroke-width="1.1"/>
<text x="612.20" y="191.25" font-size="9.6" fill="#303030" textLength="5.34" lengthAdjust="spacingAndGlyphs" >1</text>
<line x1="603.6" y1="133.5" x2="608.20" y2="133.5" stroke="#333" stroke-width="1.1"/>
<text x="612.20" y="137.20" font-size="9.6" fill="#303030" textLength="5.34" lengthAdjust="spacingAndGlyphs" >2</text>
<line x1="61.5" y1="373.5" x2="61.5" y2="377.70" stroke="#333" stroke-width="1.1"/>
<text x="61.60" y="388.10" font-size="9.2" fill="#303030" text-anchor="middle" textLength="27.94" lengthAdjust="spacingAndGlyphs" >Jan '24</text>
<line x1="120.5" y1="373.5" x2="120.5" y2="377.70" stroke="#333" stroke-width="1.1"/>
<text x="120.72" y="388.10" font-size="9.2" fill="#303030" text-anchor="middle" textLength="29.48" lengthAdjust="spacingAndGlyphs" >Apr '24</text>
<line x1="179.5" y1="373.5" x2="179.5" y2="377.70" stroke="#333" stroke-width="1.1"/>
<text x="179.85" y="388.10" font-size="9.2" fill="#303030" text-anchor="middle" textLength="25.19" lengthAdjust="spacingAndGlyphs" >Jul '24</text>
<line x1="239.5" y1="373.5" x2="239.5" y2="377.70" stroke="#333" stroke-width="1.1"/>
<text x="239.62" y="388.10" font-size="9.2" fill="#303030" text-anchor="middle" textLength="29.47" lengthAdjust="spacingAndGlyphs" >Oct '24</text>
<line x1="299.5" y1="373.5" x2="299.5" y2="377.70" stroke="#333" stroke-width="1.1"/>
<text x="299.39" y="388.10" font-size="9.2" fill="#303030" text-anchor="middle" textLength="27.94" lengthAdjust="spacingAndGlyphs" >Jan '25</text>
<line x1="357.5" y1="373.5" x2="357.5" y2="377.70" stroke="#333" stroke-width="1.1"/>
<text x="357.86" y="388.10" font-size="9.2" fill="#303030" text-anchor="middle" textLength="29.48" lengthAdjust="spacingAndGlyphs" >Apr '25</text>
<line x1="416.5" y1="373.5" x2="416.5" y2="377.70" stroke="#333" stroke-width="1.1"/>
<text x="416.99" y="388.10" font-size="9.2" fill="#303030" text-anchor="middle" textLength="25.19" lengthAdjust="spacingAndGlyphs" >Jul '25</text>
<line x1="476.5" y1="373.5" x2="476.5" y2="377.70" stroke="#333" stroke-width="1.1"/>
<text x="476.76" y="388.10" font-size="9.2" fill="#303030" text-anchor="middle" textLength="29.47" lengthAdjust="spacingAndGlyphs" >Oct '25</text>
<line x1="536.5" y1="373.5" x2="536.5" y2="377.70" stroke="#333" stroke-width="1.1"/>
<text x="536.53" y="388.10" font-size="9.2" fill="#303030" text-anchor="middle" textLength="27.94" lengthAdjust="spacingAndGlyphs" >Jan '26</text>
<line x1="595.5" y1="373.5" x2="595.5" y2="377.70" stroke="#333" stroke-width="1.1"/>
<text x="595.00" y="388.10" font-size="9.2" fill="#303030" text-anchor="middle" textLength="29.48" lengthAdjust="spacingAndGlyphs" >Apr '26</text>
<text x="61.90" y="96.90" font-size="13.6" font-weight="bold" fill="#1b2a4a" textLength="46.37" lengthAdjust="spacingAndGlyphs" stroke="#1b2a4a" stroke-width="0.25">France</text>
<g transform="translate(33.7,238.0) rotate(-90)"><text x="0.00" y="0.00" font-size="9.6" fill="#262626" text-anchor="middle" textLength="84.31" lengthAdjust="spacingAndGlyphs" >Sentiment Z-Score</text></g>
<g transform="translate(634.7,238.0) rotate(-90)"><text x="0.00" y="0.00" font-size="9.6" fill="#262626" text-anchor="middle" textLength="91.58" lengthAdjust="spacingAndGlyphs" >Mfg Production YoY %</text></g>
<line x1="722.4" y1="367.70" x2="1265.3" y2="367.70" stroke="#ebebeb" stroke-width="0.8"/>
<line x1="722.4" y1="309.60" x2="1265.3" y2="309.60" stroke="#ebebeb" stroke-width="0.8"/>
<line x1="722.4" y1="251.50" x2="1265.3" y2="251.50" stroke="#ebebeb" stroke-width="0.8"/>
<line x1="722.4" y1="193.40" x2="1265.3" y2="193.40" stroke="#ebebeb" stroke-width="0.8"/>
<line x1="722.4" y1="135.30" x2="1265.3" y2="135.30" stroke="#ebebeb" stroke-width="0.8"/>
<rect x="722.4" y="300.89" width="542.90" height="17.43" fill="#eef0f3"/>
<clipPath id="ca_Germany"><rect x="0" y="0" width="1312" height="309.60"/></clipPath>
<clipPath id="cb_Germany"><rect x="0" y="309.60" width="1312" height="816"/></clipPath>
<path d="M722.7,309.60 L722.7,335.3 L723.8,335.89 L724.9,337.74 L726.0,338.7 L727.35,347.14 L728.7,353.7 L729.85,356.43 L731.0,358.7 L732.1,360.15 L733.2,359.04 L734.3,360.3 L735.15,351.57 L736.0,342.0 L737.35,334.66 L738.7,328.7 L739.8,328.35 L740.9,325.58 L742.0,323.7 L743.0,325.08 L744.0,324.26 L745.0,325.27 L746.0,325.3 L747.1,325.85 L748.2,325.87 L749.3,323.7 L750.43,322.88 L751.57,320.83 L752.7,327.0 L753.7,327.8 L754.7,327.9 L755.7,325.72 L756.7,325.3 L758.3,312.0 L759.65,308.84 L761.0,312.7 L762.1,314.26 L763.2,317.69 L764.3,322.0 L765.5,319.62 L766.7,315.3 L768.0,319.89 L769.3,322.0 L770.43,323.52 L771.57,327.26 L772.7,325.3 L773.8,329.43 L774.9,330.37 L776.0,330.3 L777.1,332.59 L778.2,335.55 L779.3,332.0 L780.43,333.94 L781.57,332.7 L782.7,335.3 L783.8,331.2 L784.9,333.29 L786.0,332.0 L787.35,328.12 L788.7,322.0 L789.85,325.96 L791.0,327.0 L792.1,323.8 L793.2,316.43 L794.3,310.3 L795.5,316.63 L796.7,322.0 L797.7,310.95 L798.7,302.0 L799.85,299.65 L801.0,293.7 L802.15,295.94 L803.3,298.7 L804.65,301.41 L806.0,302.0 L807.1,297.71 L808.2,291.31 L809.3,287.0 L810.43,283.14 L811.57,283.51 L812.7,278.7 L814.0,282.83 L815.3,285.3 L816.43,287.36 L817.57,288.25 L818.7,288.7 L819.8,287.47 L820.9,285.08 L822.0,290.3 L823.15,292.27 L824.3,298.7 L825.5,300.56 L826.7,303.7 L828.0,303.83 L829.3,303.7 L830.15,312.21 L831.0,322.0 L832.15,323.83 L833.3,328.7 L834.43,327.19 L835.57,324.55 L836.7,327.0 L837.8,325.39 L838.9,327.2 L840.0,332.0 L841.35,337.31 L842.7,345.3 L844.3,360.3 L845.43,358.21 L846.57,359.69 L847.7,362.0 L848.85,361.25 L850.0,360.3 L851.35,360.06 L852.7,363.7 L854.0,354.86 L855.3,348.7 L856.5,345.69 L857.7,340.3 L858.85,345.49 L860.0,348.7 L861.35,342.91 L862.7,340.3 L864.0,327.07 L865.3,315.3 L866.5,311.68 L867.7,308.7 L868.85,302.92 L870.0,298.7 L871.0,284.92 L872.0,275.3 L873.15,274.13 L874.3,273.7 L875.43,274.21 L876.57,274.42 L877.7,275.3 L878.8,275.21 L879.9,275.7 L881.0,277.0 L882.15,273.91 L883.3,273.7 L884.3,281.55 L885.3,287.0 L886.5,284.44 L887.7,282.0 L888.85,267.11 L890.0,248.7 L891.35,244.22 L892.7,240.3 L894.3,258.7 L895.5,265.38 L896.7,273.7 L897.7,277.96 L898.7,283.7 L899.85,278.96 L901.0,280.3 L902.15,282.3 L903.3,283.7 L904.65,281.39 L906.0,278.7 L907.1,280.63 L908.2,281.62 L909.3,282.0 L910.43,280.6 L911.57,281.79 L912.7,283.7 L914.0,273.98 L915.3,265.3 L916.3,256.57 L917.3,245.3 L918.3,255.15 L919.3,265.3 L920.65,268.84 L922.0,275.3 L923.15,274.16 L924.3,265.3 L925.5,262.02 L926.7,260.3 L928.0,262.58 L929.3,265.3 L930.65,262.21 L932.0,258.7 L933.15,260.12 L934.3,262.0 L935.43,261.92 L936.57,260.96 L937.7,258.7 L938.8,259.18 L939.9,259.56 L941.0,260.3 L942.15,273.86 L943.3,282.0 L944.3,297.86 L945.3,308.7 L946.15,320.15 L947.0,330.3 L948.0,330.91 L949.0,329.5 L950.0,332.0 L951.35,328.98 L952.7,330.3 L954.0,331.36 L955.3,338.7 L956.43,340.0 L957.57,343.24 L958.7,342.0 L959.8,346.83 L960.9,346.76 L962.0,348.7 L963.1,348.72 L964.2,346.56 L965.3,347.0 L966.43,343.29 L967.57,343.61 L968.7,342.0 L969.85,335.19 L971.0,328.7 L972.15,317.99 L973.3,305.3 L974.65,300.22 L976.0,295.3 L977.35,288.03 L978.7,282.0 L979.85,276.53 L981.0,273.7 L982.15,267.92 L983.3,262.0 L984.65,264.72 L986.0,265.3 L987.35,259.73 L988.7,252.0 L989.85,248.93 L991.0,243.7 L992.15,240.49 L993.3,238.7 L994.3,241.66 L995.3,243.7 L996.5,239.07 L997.7,237.0 L998.85,239.34 L1000.0,240.3 L1001.0,236.59 L1002.0,232.0 L1003.15,229.19 L1004.3,228.7 L1005.15,224.26 L1006.0,223.7 L1007.35,228.1 L1008.7,232.0 L1009.85,234.24 L1011.0,237.0 L1012.15,243.65 L1013.3,247.0 L1014.3,238.15 L1015.3,228.7 L1016.5,226.16 L1017.7,223.7 L1018.85,226.23 L1020.0,230.3 L1021.35,221.78 L1022.7,218.7 L1024.0,206.54 L1025.3,202.0 L1026.7,142.0 L1027.7,122.9 L1028.7,110.3 L1029.85,116.22 L1031.0,122.0 L1032.15,122.88 L1033.3,125.3 L1034.65,129.08 L1036.0,128.7 L1037.1,128.58 L1038.2,126.22 L1039.3,130.3 L1040.65,133.04 L1042.0,135.3 L1043.15,126.31 L1044.3,118.7 L1045.5,123.35 L1046.7,128.7 L1047.7,126.98 L1048.7,118.7 L1049.85,125.53 L1051.0,128.7 L1052.15,132.31 L1053.3,135.3 L1054.3,143.2 L1055.3,152.0 L1056.7,228.7 L1058.0,231.18 L1059.3,235.3 L1060.15,218.25 L1061.0,202.0 L1062.15,187.13 L1063.3,173.7 L1064.3,181.1 L1065.3,187.0 L1066.5,189.75 L1067.7,185.3 L1068.8,186.99 L1069.9,189.91 L1071.0,190.3 L1071.85,200.06 L1072.7,212.0 L1074.3,168.7 L1075.15,157.93 L1076.0,142.0 L1077.35,146.89 L1078.7,152.0 L1079.85,155.26 L1081.0,153.7 L1082.15,155.81 L1083.3,160.3 L1084.65,157.28 L1086.0,155.3 L1087.1,155.71 L1088.2,160.17 L1089.3,157.0 L1090.15,178.63 L1091.0,198.7 L1091.85,208.92 L1092.7,215.3 L1094.0,217.76 L1095.3,215.3 L1096.5,207.87 L1097.7,195.3 L1098.8,192.92 L1099.9,190.74 L1101.0,190.3 L1101.85,198.01 L1102.7,202.0 L1104.3,262.0 L1105.5,260.43 L1106.7,257.0 L1108.0,256.85 L1109.3,253.7 L1110.15,255.53 L1111.0,253.7 L1112.15,260.35 L1113.3,262.0 L1114.65,259.96 L1116.0,260.3 L1117.35,261.71 L1118.7,268.7 L1119.85,268.57 L1121.0,272.0 L1121.85,266.22 L1122.7,260.3 L1124.0,260.3 L1125.3,262.0 L1126.5,271.69 L1127.7,280.3 L1128.85,282.68 L1130.0,282.0 L1131.35,276.53 L1132.7,273.7 L1134.0,277.48 L1135.3,287.0 L1136.5,289.11 L1137.7,293.7 L1138.8,295.17 L1139.9,294.5 L1141.0,295.3 L1142.15,301.9 L1143.3,312.0 L1144.65,314.03 L1146.0,315.3 L1147.35,311.5 L1148.7,313.7 L1150.0,318.0 L1151.35,307.91 L1152.7,302.0 L1154.0,304.5 L1155.3,310.3 L1156.5,305.75 L1157.7,300.3 L1158.85,302.48 L1160.0,302.0 L1161.35,292.01 L1162.7,283.7 L1164.0,277.08 L1165.3,270.3 L1166.43,267.04 L1167.57,266.39 L1168.7,263.7 L1169.85,255.92 L1171.0,248.7 L1172.15,241.04 L1173.3,233.7 L1174.65,230.56 L1176.0,228.7 L1177.35,233.85 L1178.7,237.0 L1179.85,233.03 L1181.0,232.0 L1182.1,228.18 L1183.2,229.49 L1184.3,228.7 L1185.5,232.93 L1186.7,238.7 L1188.0,233.53 L1189.3,237.0 L1190.65,244.56 L1192.0,250.3 L1193.1,252.62 L1194.2,254.17 L1195.3,255.3 L1196.5,259.24 L1197.7,265.3 L1198.8,269.88 L1199.9,274.68 L1201.0,278.7 L1202.15,273.18 L1203.3,268.7 L1204.65,259.38 L1206.0,248.7 L1207.35,245.08 L1208.7,240.3 L1209.85,246.02 L1211.0,248.7 L1212.15,257.93 L1213.3,265.3 L1214.65,256.24 L1216.0,250.3 L1217.1,250.01 L1218.2,245.61 L1219.3,248.7 L1220.65,236.85 L1222.0,235.3 L1223.15,235.37 L1224.3,238.7 L1225.15,230.84 L1226.0,223.7 L1227.35,221.43 L1228.7,222.0 L1229.85,220.9 L1231.0,220.3 L1232.15,234.19 L1233.3,242.0 L1234.65,242.51 L1236.0,238.7 L1236.85,243.18 L1237.7,250.3 L1238.8,245.99 L1239.9,247.24 L1241.0,245.3 L1242.15,247.69 L1243.3,252.0 L1244.65,260.59 L1246.0,268.7 L1246.85,263.98 L1247.7,255.3 L1248.85,259.04 L1250.0,262.0 L1251.0,262.1 L1252.0,255.3 L1253.15,264.88 L1254.3,265.3 L1255.5,260.89 L1256.7,253.7 L1258.0,251.29 L1259.3,252.0 L1260.65,254.82 L1262.0,257.0 L1263.35,260.5 L1264.7,265.3 L1264.7,309.60 Z" fill="#3f6cc0" fill-opacity="0.2" clip-path="url(#ca_Germany)"/>
<path d="M722.7,309.60 L722.7,335.3 L723.8,335.89 L724.9,337.74 L726.0,338.7 L727.35,347.14 L728.7,353.7 L729.85,356.43 L731.0,358.7 L732.1,360.15 L733.2,359.04 L734.3,360.3 L735.15,351.57 L736.0,342.0 L737.35,334.66 L738.7,328.7 L739.8,328.35 L740.9,325.58 L742.0,323.7 L743.0,325.08 L744.0,324.26 L745.0,325.27 L746.0,325.3 L747.1,325.85 L748.2,325.87 L749.3,323.7 L750.43,322.88 L751.57,320.83 L752.7,327.0 L753.7,327.8 L754.7,327.9 L755.7,325.72 L756.7,325.3 L758.3,312.0 L759.65,308.84 L761.0,312.7 L762.1,314.26 L763.2,317.69 L764.3,322.0 L765.5,319.62 L766.7,315.3 L768.0,319.89 L769.3,322.0 L770.43,323.52 L771.57,327.26 L772.7,325.3 L773.8,329.43 L774.9,330.37 L776.0,330.3 L777.1,332.59 L778.2,335.55 L779.3,332.0 L780.43,333.94 L781.57,332.7 L782.7,335.3 L783.8,331.2 L784.9,333.29 L786.0,332.0 L787.35,328.12 L788.7,322.0 L789.85,325.96 L791.0,327.0 L792.1,323.8 L793.2,316.43 L794.3,310.3 L795.5,316.63 L796.7,322.0 L797.7,310.95 L798.7,302.0 L799.85,299.65 L801.0,293.7 L802.15,295.94 L803.3,298.7 L804.65,301.41 L806.0,302.0 L807.1,297.71 L808.2,291.31 L809.3,287.0 L810.43,283.14 L811.57,283.51 L812.7,278.7 L814.0,282.83 L815.3,285.3 L816.43,287.36 L817.57,288.25 L818.7,288.7 L819.8,287.47 L820.9,285.08 L822.0,290.3 L823.15,292.27 L824.3,298.7 L825.5,300.56 L826.7,303.7 L828.0,303.83 L829.3,303.7 L830.15,312.21 L831.0,322.0 L832.15,323.83 L833.3,328.7 L834.43,327.19 L835.57,324.55 L836.7,327.0 L837.8,325.39 L838.9,327.2 L840.0,332.0 L841.35,337.31 L842.7,345.3 L844.3,360.3 L845.43,358.21 L846.57,359.69 L847.7,362.0 L848.85,361.25 L850.0,360.3 L851.35,360.06 L852.7,363.7 L854.0,354.86 L855.3,348.7 L856.5,345.69 L857.7,340.3 L858.85,345.49 L860.0,348.7 L861.35,342.91 L862.7,340.3 L864.0,327.07 L865.3,315.3 L866.5,311.68 L867.7,308.7 L868.85,302.92 L870.0,298.7 L871.0,284.92 L872.0,275.3 L873.15,274.13 L874.3,273.7 L875.43,274.21 L876.57,274.42 L877.7,275.3 L878.8,275.21 L879.9,275.7 L881.0,277.0 L882.15,273.91 L883.3,273.7 L884.3,281.55 L885.3,287.0 L886.5,284.44 L887.7,282.0 L888.85,267.11 L890.0,248.7 L891.35,244.22 L892.7,240.3 L894.3,258.7 L895.5,265.38 L896.7,273.7 L897.7,277.96 L898.7,283.7 L899.85,278.96 L901.0,280.3 L902.15,282.3 L903.3,283.7 L904.65,281.39 L906.0,278.7 L907.1,280.63 L908.2,281.62 L909.3,282.0 L910.43,280.6 L911.57,281.79 L912.7,283.7 L914.0,273.98 L915.3,265.3 L916.3,256.57 L917.3,245.3 L918.3,255.15 L919.3,265.3 L920.65,268.84 L922.0,275.3 L923.15,274.16 L924.3,265.3 L925.5,262.02 L926.7,260.3 L928.0,262.58 L929.3,265.3 L930.65,262.21 L932.0,258.7 L933.15,260.12 L934.3,262.0 L935.43,261.92 L936.57,260.96 L937.7,258.7 L938.8,259.18 L939.9,259.56 L941.0,260.3 L942.15,273.86 L943.3,282.0 L944.3,297.86 L945.3,308.7 L946.15,320.15 L947.0,330.3 L948.0,330.91 L949.0,329.5 L950.0,332.0 L951.35,328.98 L952.7,330.3 L954.0,331.36 L955.3,338.7 L956.43,340.0 L957.57,343.24 L958.7,342.0 L959.8,346.83 L960.9,346.76 L962.0,348.7 L963.1,348.72 L964.2,346.56 L965.3,347.0 L966.43,343.29 L967.57,343.61 L968.7,342.0 L969.85,335.19 L971.0,328.7 L972.15,317.99 L973.3,305.3 L974.65,300.22 L976.0,295.3 L977.35,288.03 L978.7,282.0 L979.85,276.53 L981.0,273.7 L982.15,267.92 L983.3,262.0 L984.65,264.72 L986.0,265.3 L987.35,259.73 L988.7,252.0 L989.85,248.93 L991.0,243.7 L992.15,240.49 L993.3,238.7 L994.3,241.66 L995.3,243.7 L996.5,239.07 L997.7,237.0 L998.85,239.34 L1000.0,240.3 L1001.0,236.59 L1002.0,232.0 L1003.15,229.19 L1004.3,228.7 L1005.15,224.26 L1006.0,223.7 L1007.35,228.1 L1008.7,232.0 L1009.85,234.24 L1011.0,237.0 L1012.15,243.65 L1013.3,247.0 L1014.3,238.15 L1015.3,228.7 L1016.5,226.16 L1017.7,223.7 L1018.85,226.23 L1020.0,230.3 L1021.35,221.78 L1022.7,218.7 L1024.0,206.54 L1025.3,202.0 L1026.7,142.0 L1027.7,122.9 L1028.7,110.3 L1029.85,116.22 L1031.0,122.0 L1032.15,122.88 L1033.3,125.3 L1034.65,129.08 L1036.0,128.7 L1037.1,128.58 L1038.2,126.22 L1039.3,130.3 L1040.65,133.04 L1042.0,135.3 L1043.15,126.31 L1044.3,118.7 L1045.5,123.35 L1046.7,128.7 L1047.7,126.98 L1048.7,118.7 L1049.85,125.53 L1051.0,128.7 L1052.15,132.31 L1053.3,135.3 L1054.3,143.2 L1055.3,152.0 L1056.7,228.7 L1058.0,231.18 L1059.3,235.3 L1060.15,218.25 L1061.0,202.0 L1062.15,187.13 L1063.3,173.7 L1064.3,181.1 L1065.3,187.0 L1066.5,189.75 L1067.7,185.3 L1068.8,186.99 L1069.9,189.91 L1071.0,190.3 L1071.85,200.06 L1072.7,212.0 L1074.3,168.7 L1075.15,157.93 L1076.0,142.0 L1077.35,146.89 L1078.7,152.0 L1079.85,155.26 L1081.0,153.7 L1082.15,155.81 L1083.3,160.3 L1084.65,157.28 L1086.0,155.3 L1087.1,155.71 L1088.2,160.17 L1089.3,157.0 L1090.15,178.63 L1091.0,198.7 L1091.85,208.92 L1092.7,215.3 L1094.0,217.76 L1095.3,215.3 L1096.5,207.87 L1097.7,195.3 L1098.8,192.92 L1099.9,190.74 L1101.0,190.3 L1101.85,198.01 L1102.7,202.0 L1104.3,262.0 L1105.5,260.43 L1106.7,257.0 L1108.0,256.85 L1109.3,253.7 L1110.15,255.53 L1111.0,253.7 L1112.15,260.35 L1113.3,262.0 L1114.65,259.96 L1116.0,260.3 L1117.35,261.71 L1118.7,268.7 L1119.85,268.57 L1121.0,272.0 L1121.85,266.22 L1122.7,260.3 L1124.0,260.3 L1125.3,262.0 L1126.5,271.69 L1127.7,280.3 L1128.85,282.68 L1130.0,282.0 L1131.35,276.53 L1132.7,273.7 L1134.0,277.48 L1135.3,287.0 L1136.5,289.11 L1137.7,293.7 L1138.8,295.17 L1139.9,294.5 L1141.0,295.3 L1142.15,301.9 L1143.3,312.0 L1144.65,314.03 L1146.0,315.3 L1147.35,311.5 L1148.7,313.7 L1150.0,318.0 L1151.35,307.91 L1152.7,302.0 L1154.0,304.5 L1155.3,310.3 L1156.5,305.75 L1157.7,300.3 L1158.85,302.48 L1160.0,302.0 L1161.35,292.01 L1162.7,283.7 L1164.0,277.08 L1165.3,270.3 L1166.43,267.04 L1167.57,266.39 L1168.7,263.7 L1169.85,255.92 L1171.0,248.7 L1172.15,241.04 L1173.3,233.7 L1174.65,230.56 L1176.0,228.7 L1177.35,233.85 L1178.7,237.0 L1179.85,233.03 L1181.0,232.0 L1182.1,228.18 L1183.2,229.49 L1184.3,228.7 L1185.5,232.93 L1186.7,238.7 L1188.0,233.53 L1189.3,237.0 L1190.65,244.56 L1192.0,250.3 L1193.1,252.62 L1194.2,254.17 L1195.3,255.3 L1196.5,259.24 L1197.7,265.3 L1198.8,269.88 L1199.9,274.68 L1201.0,278.7 L1202.15,273.18 L1203.3,268.7 L1204.65,259.38 L1206.0,248.7 L1207.35,245.08 L1208.7,240.3 L1209.85,246.02 L1211.0,248.7 L1212.15,257.93 L1213.3,265.3 L1214.65,256.24 L1216.0,250.3 L1217.1,250.01 L1218.2,245.61 L1219.3,248.7 L1220.65,236.85 L1222.0,235.3 L1223.15,235.37 L1224.3,238.7 L1225.15,230.84 L1226.0,223.7 L1227.35,221.43 L1228.7,222.0 L1229.85,220.9 L1231.0,220.3 L1232.15,234.19 L1233.3,242.0 L1234.65,242.51 L1236.0,238.7 L1236.85,243.18 L1237.7,250.3 L1238.8,245.99 L1239.9,247.24 L1241.0,245.3 L1242.15,247.69 L1243.3,252.0 L1244.65,260.59 L1246.0,268.7 L1246.85,263.98 L1247.7,255.3 L1248.85,259.04 L1250.0,262.0 L1251.0,262.1 L1252.0,255.3 L1253.15,264.88 L1254.3,265.3 L1255.5,260.89 L1256.7,253.7 L1258.0,251.29 L1259.3,252.0 L1260.65,254.82 L1262.0,257.0 L1263.35,260.5 L1264.7,265.3 L1264.7,309.60 Z" fill="#c0504d" fill-opacity="0.2" clip-path="url(#cb_Germany)"/>
<line x1="722.4" y1="309.60" x2="1265.3" y2="309.60" stroke="#b9b4bb" stroke-width="0.9"/>
<line x1="1236.6" y1="103.8" x2="1236.6" y2="373.5" stroke="#aaaaaa" stroke-width="0.8" stroke-dasharray="1.2,1.6"/>
<text x="1236.60" y="102.00" font-size="7.6" fill="#666" text-anchor="middle" textLength="26.00" lengthAdjust="spacingAndGlyphs" >Feb '26</text>
<path d="M722.70,308.00 C724.37,308.12 729.37,308.32 732.70,308.70 C736.03,309.08 739.37,309.58 742.70,310.30 C746.03,311.02 749.37,312.17 752.70,313.00 C756.03,313.83 759.93,314.92 762.70,315.30 C765.47,315.68 766.80,316.13 769.30,315.30 C771.80,314.47 774.92,312.52 777.70,310.30 C780.48,308.08 783.23,304.77 786.00,302.00 C788.77,299.23 791.97,295.48 794.30,293.70 C796.63,291.92 798.05,291.03 800.00,291.30 C801.95,291.57 803.88,292.40 806.00,295.30 C808.12,298.20 810.48,303.42 812.70,308.70 C814.92,313.98 817.08,321.45 819.30,327.00 C821.52,332.55 823.88,338.67 826.00,342.00 C828.12,345.33 830.05,347.00 832.00,347.00 C833.95,347.00 835.65,345.05 837.70,342.00 C839.75,338.95 841.80,333.70 844.30,328.70 C846.80,323.70 849.92,315.78 852.70,312.00 C855.48,308.22 858.23,307.38 861.00,306.00 C863.77,304.62 866.25,305.20 869.30,303.70 C872.35,302.20 875.97,299.23 879.30,297.00 C882.63,294.77 886.52,291.58 889.30,290.30 C892.08,289.02 893.50,289.13 896.00,289.30 C898.50,289.47 901.52,291.13 904.30,291.30 C907.08,291.47 909.92,291.57 912.70,290.30 C915.48,289.03 918.23,286.75 921.00,283.70 C923.77,280.65 926.52,276.17 929.30,272.00 C932.08,267.83 934.92,262.58 937.70,258.70 C940.48,254.82 942.95,251.77 946.00,248.70 C949.05,245.63 952.67,242.08 956.00,240.30 C959.33,238.52 962.95,238.38 966.00,238.00 C969.05,237.62 971.52,237.62 974.30,238.00 C977.08,238.38 979.92,239.08 982.70,240.30 C985.48,241.52 988.23,243.63 991.00,245.30 C993.77,246.97 996.52,250.30 999.30,250.30 C1002.08,250.30 1004.92,248.90 1007.70,245.30 C1010.48,241.70 1013.23,234.80 1016.00,228.70 C1018.77,222.60 1021.25,213.53 1024.30,208.70 C1027.35,203.87 1031.23,200.70 1034.30,199.70 C1037.37,198.70 1040.20,201.87 1042.70,202.70 C1045.20,203.53 1046.80,205.10 1049.30,204.70 C1051.80,204.30 1054.92,201.97 1057.70,200.30 C1060.48,198.63 1062.95,196.08 1066.00,194.70 C1069.05,193.32 1072.95,192.90 1076.00,192.00 C1079.05,191.10 1081.80,190.97 1084.30,189.30 C1086.80,187.63 1088.77,185.17 1091.00,182.00 C1093.23,178.83 1095.48,173.18 1097.70,170.30 C1099.92,167.42 1102.37,165.25 1104.30,164.70 C1106.23,164.15 1107.35,162.45 1109.30,167.00 C1111.25,171.55 1114.05,185.05 1116.00,192.00 C1117.95,198.95 1119.33,203.70 1121.00,208.70 C1122.67,213.70 1124.17,218.67 1126.00,222.00 C1127.83,225.33 1130.05,228.42 1132.00,228.70 C1133.95,228.98 1135.65,227.03 1137.70,223.70 C1139.75,220.37 1141.80,214.82 1144.30,208.70 C1146.80,202.58 1149.92,193.95 1152.70,187.00 C1155.48,180.05 1158.23,173.12 1161.00,167.00 C1163.77,160.88 1166.52,155.13 1169.30,150.30 C1172.08,145.47 1174.92,141.33 1177.70,138.00 C1180.48,134.67 1183.23,131.85 1186.00,130.30 C1188.77,128.75 1191.52,128.42 1194.30,128.70 C1197.08,128.98 1199.92,130.07 1202.70,132.00 C1205.48,133.93 1208.23,136.97 1211.00,140.30 C1213.77,143.63 1216.52,148.50 1219.30,152.00 C1222.08,155.50 1224.92,159.18 1227.70,161.30 C1230.48,163.42 1234.62,164.13 1236.00,164.70" fill="none" stroke="#3a3a3a" stroke-width="2.5" stroke-linejoin="round" stroke-linecap="round"/>
<path d="M722.7,335.3 L723.8,335.89 L724.9,337.74 L726.0,338.7 L727.35,347.14 L728.7,353.7 L729.85,356.43 L731.0,358.7 L732.1,360.15 L733.2,359.04 L734.3,360.3 L735.15,351.57 L736.0,342.0 L737.35,334.66 L738.7,328.7 L739.8,328.35 L740.9,325.58 L742.0,323.7 L743.0,325.08 L744.0,324.26 L745.0,325.27 L746.0,325.3 L747.1,325.85 L748.2,325.87 L749.3,323.7 L750.43,322.88 L751.57,320.83 L752.7,327.0 L753.7,327.8 L754.7,327.9 L755.7,325.72 L756.7,325.3 L758.3,312.0 L759.65,308.84 L761.0,312.7 L762.1,314.26 L763.2,317.69 L764.3,322.0 L765.5,319.62 L766.7,315.3 L768.0,319.89 L769.3,322.0 L770.43,323.52 L771.57,327.26 L772.7,325.3 L773.8,329.43 L774.9,330.37 L776.0,330.3 L777.1,332.59 L778.2,335.55 L779.3,332.0 L780.43,333.94 L781.57,332.7 L782.7,335.3 L783.8,331.2 L784.9,333.29 L786.0,332.0 L787.35,328.12 L788.7,322.0 L789.85,325.96 L791.0,327.0 L792.1,323.8 L793.2,316.43 L794.3,310.3 L795.5,316.63 L796.7,322.0 L797.7,310.95 L798.7,302.0 L799.85,299.65 L801.0,293.7 L802.15,295.94 L803.3,298.7 L804.65,301.41 L806.0,302.0 L807.1,297.71 L808.2,291.31 L809.3,287.0 L810.43,283.14 L811.57,283.51 L812.7,278.7 L814.0,282.83 L815.3,285.3 L816.43,287.36 L817.57,288.25 L818.7,288.7 L819.8,287.47 L820.9,285.08 L822.0,290.3 L823.15,292.27 L824.3,298.7 L825.5,300.56 L826.7,303.7 L828.0,303.83 L829.3,303.7 L830.15,312.21 L831.0,322.0 L832.15,323.83 L833.3,328.7 L834.43,327.19 L835.57,324.55 L836.7,327.0 L837.8,325.39 L838.9,327.2 L840.0,332.0 L841.35,337.31 L842.7,345.3 L844.3,360.3 L845.43,358.21 L846.57,359.69 L847.7,362.0 L848.85,361.25 L850.0,360.3 L851.35,360.06 L852.7,363.7 L854.0,354.86 L855.3,348.7 L856.5,345.69 L857.7,340.3 L858.85,345.49 L860.0,348.7 L861.35,342.91 L862.7,340.3 L864.0,327.07 L865.3,315.3 L866.5,311.68 L867.7,308.7 L868.85,302.92 L870.0,298.7 L871.0,284.92 L872.0,275.3 L873.15,274.13 L874.3,273.7 L875.43,274.21 L876.57,274.42 L877.7,275.3 L878.8,275.21 L879.9,275.7 L881.0,277.0 L882.15,273.91 L883.3,273.7 L884.3,281.55 L885.3,287.0 L886.5,284.44 L887.7,282.0 L888.85,267.11 L890.0,248.7 L891.35,244.22 L892.7,240.3 L894.3,258.7 L895.5,265.38 L896.7,273.7 L897.7,277.96 L898.7,283.7 L899.85,278.96 L901.0,280.3 L902.15,282.3 L903.3,283.7 L904.65,281.39 L906.0,278.7 L907.1,280.63 L908.2,281.62 L909.3,282.0 L910.43,280.6 L911.57,281.79 L912.7,283.7 L914.0,273.98 L915.3,265.3 L916.3,256.57 L917.3,245.3 L918.3,255.15 L919.3,265.3 L920.65,268.84 L922.0,275.3 L923.15,274.16 L924.3,265.3 L925.5,262.02 L926.7,260.3 L928.0,262.58 L929.3,265.3 L930.65,262.21 L932.0,258.7 L933.15,260.12 L934.3,262.0 L935.43,261.92 L936.57,260.96 L937.7,258.7 L938.8,259.18 L939.9,259.56 L941.0,260.3 L942.15,273.86 L943.3,282.0 L944.3,297.86 L945.3,308.7 L946.15,320.15 L947.0,330.3 L948.0,330.91 L949.0,329.5 L950.0,332.0 L951.35,328.98 L952.7,330.3 L954.0,331.36 L955.3,338.7 L956.43,340.0 L957.57,343.24 L958.7,342.0 L959.8,346.83 L960.9,346.76 L962.0,348.7 L963.1,348.72 L964.2,346.56 L965.3,347.0 L966.43,343.29 L967.57,343.61 L968.7,342.0 L969.85,335.19 L971.0,328.7 L972.15,317.99 L973.3,305.3 L974.65,300.22 L976.0,295.3 L977.35,288.03 L978.7,282.0 L979.85,276.53 L981.0,273.7 L982.15,267.92 L983.3,262.0 L984.65,264.72 L986.0,265.3 L987.35,259.73 L988.7,252.0 L989.85,248.93 L991.0,243.7 L992.15,240.49 L993.3,238.7 L994.3,241.66 L995.3,243.7 L996.5,239.07 L997.7,237.0 L998.85,239.34 L1000.0,240.3 L1001.0,236.59 L1002.0,232.0 L1003.15,229.19 L1004.3,228.7 L1005.15,224.26 L1006.0,223.7 L1007.35,228.1 L1008.7,232.0 L1009.85,234.24 L1011.0,237.0 L1012.15,243.65 L1013.3,247.0 L1014.3,238.15 L1015.3,228.7 L1016.5,226.16 L1017.7,223.7 L1018.85,226.23 L1020.0,230.3 L1021.35,221.78 L1022.7,218.7 L1024.0,206.54 L1025.3,202.0 L1026.7,142.0 L1027.7,122.9 L1028.7,110.3 L1029.85,116.22 L1031.0,122.0 L1032.15,122.88 L1033.3,125.3 L1034.65,129.08 L1036.0,128.7 L1037.1,128.58 L1038.2,126.22 L1039.3,130.3 L1040.65,133.04 L1042.0,135.3 L1043.15,126.31 L1044.3,118.7 L1045.5,123.35 L1046.7,128.7 L1047.7,126.98 L1048.7,118.7 L1049.85,125.53 L1051.0,128.7 L1052.15,132.31 L1053.3,135.3 L1054.3,143.2 L1055.3,152.0 L1056.7,228.7 L1058.0,231.18 L1059.3,235.3 L1060.15,218.25 L1061.0,202.0 L1062.15,187.13 L1063.3,173.7 L1064.3,181.1 L1065.3,187.0 L1066.5,189.75 L1067.7,185.3 L1068.8,186.99 L1069.9,189.91 L1071.0,190.3 L1071.85,200.06 L1072.7,212.0 L1074.3,168.7 L1075.15,157.93 L1076.0,142.0 L1077.35,146.89 L1078.7,152.0 L1079.85,155.26 L1081.0,153.7 L1082.15,155.81 L1083.3,160.3 L1084.65,157.28 L1086.0,155.3 L1087.1,155.71 L1088.2,160.17 L1089.3,157.0 L1090.15,178.63 L1091.0,198.7 L1091.85,208.92 L1092.7,215.3 L1094.0,217.76 L1095.3,215.3 L1096.5,207.87 L1097.7,195.3 L1098.8,192.92 L1099.9,190.74 L1101.0,190.3 L1101.85,198.01 L1102.7,202.0 L1104.3,262.0 L1105.5,260.43 L1106.7,257.0 L1108.0,256.85 L1109.3,253.7 L1110.15,255.53 L1111.0,253.7 L1112.15,260.35 L1113.3,262.0 L1114.65,259.96 L1116.0,260.3 L1117.35,261.71 L1118.7,268.7 L1119.85,268.57 L1121.0,272.0 L1121.85,266.22 L1122.7,260.3 L1124.0,260.3 L1125.3,262.0 L1126.5,271.69 L1127.7,280.3 L1128.85,282.68 L1130.0,282.0 L1131.35,276.53 L1132.7,273.7 L1134.0,277.48 L1135.3,287.0 L1136.5,289.11 L1137.7,293.7 L1138.8,295.17 L1139.9,294.5 L1141.0,295.3 L1142.15,301.9 L1143.3,312.0 L1144.65,314.03 L1146.0,315.3 L1147.35,311.5 L1148.7,313.7 L1150.0,318.0 L1151.35,307.91 L1152.7,302.0 L1154.0,304.5 L1155.3,310.3 L1156.5,305.75 L1157.7,300.3 L1158.85,302.48 L1160.0,302.0 L1161.35,292.01 L1162.7,283.7 L1164.0,277.08 L1165.3,270.3 L1166.43,267.04 L1167.57,266.39 L1168.7,263.7 L1169.85,255.92 L1171.0,248.7 L1172.15,241.04 L1173.3,233.7 L1174.65,230.56 L1176.0,228.7 L1177.35,233.85 L1178.7,237.0 L1179.85,233.03 L1181.0,232.0 L1182.1,228.18 L1183.2,229.49 L1184.3,228.7 L1185.5,232.93 L1186.7,238.7 L1188.0,233.53 L1189.3,237.0 L1190.65,244.56 L1192.0,250.3 L1193.1,252.62 L1194.2,254.17 L1195.3,255.3 L1196.5,259.24 L1197.7,265.3 L1198.8,269.88 L1199.9,274.68 L1201.0,278.7 L1202.15,273.18 L1203.3,268.7 L1204.65,259.38 L1206.0,248.7 L1207.35,245.08 L1208.7,240.3 L1209.85,246.02 L1211.0,248.7 L1212.15,257.93 L1213.3,265.3 L1214.65,256.24 L1216.0,250.3 L1217.1,250.01 L1218.2,245.61 L1219.3,248.7 L1220.65,236.85 L1222.0,235.3 L1223.15,235.37 L1224.3,238.7 L1225.15,230.84 L1226.0,223.7 L1227.35,221.43 L1228.7,222.0 L1229.85,220.9 L1231.0,220.3 L1232.15,234.19 L1233.3,242.0 L1234.65,242.51 L1236.0,238.7 L1236.85,243.18 L1237.7,250.3 L1238.8,245.99 L1239.9,247.24 L1241.0,245.3 L1242.15,247.69 L1243.3,252.0 L1244.65,260.59 L1246.0,268.7 L1246.85,263.98 L1247.7,255.3 L1248.85,259.04 L1250.0,262.0 L1251.0,262.1 L1252.0,255.3 L1253.15,264.88 L1254.3,265.3 L1255.5,260.89 L1256.7,253.7 L1258.0,251.29 L1259.3,252.0 L1260.65,254.82 L1262.0,257.0 L1263.35,260.5 L1264.7,265.3" fill="none" stroke="#3b63a0" stroke-width="2.4" stroke-linejoin="round"/>
<line x1="722.4" y1="102.8" x2="722.4" y2="373.5" stroke="#777" stroke-width="1.1"/>
<line x1="721.9" y1="373.5" x2="1265.3" y2="373.5" stroke="#444" stroke-width="1.1"/>
<line x1="717.80" y1="367.5" x2="722.4" y2="367.5" stroke="#333" stroke-width="1.1"/>
<text x="713.30" y="371.20" font-size="9.6" fill="#303030" text-anchor="end" textLength="12.38" lengthAdjust="spacingAndGlyphs" >−2</text>
<line x1="717.80" y1="309.5" x2="722.4" y2="309.5" stroke="#333" stroke-width="1.1"/>
<text x="713.30" y="313.10" font-size="9.6" fill="#303030" text-anchor="end" textLength="5.34" lengthAdjust="spacingAndGlyphs" >0</text>
<line x1="717.80" y1="251.5" x2="722.4" y2="251.5" stroke="#333" stroke-width="1.1"/>
<text x="713.30" y="255.00" font-size="9.6" fill="#303030" text-anchor="end" textLength="5.34" lengthAdjust="spacingAndGlyphs" >2</text>
<line x1="717.80" y1="193.5" x2="722.4" y2="193.5" stroke="#333" stroke-width="1.1"/>
<text x="713.30" y="196.90" font-size="9.6" fill="#303030" text-anchor="end" textLength="5.34" lengthAdjust="spacingAndGlyphs" >4</text>
<line x1="717.80" y1="135.5" x2="722.4" y2="135.5" stroke="#333" stroke-width="1.1"/>
<text x="713.30" y="138.80" font-size="9.6" fill="#303030" text-anchor="end" textLength="5.34" lengthAdjust="spacingAndGlyphs" >6</text>
<line x1="1265.3" y1="366.5" x2="1269.90" y2="366.5" stroke="#333" stroke-width="1.1"/>
<text x="1273.90" y="369.73" font-size="9.6" fill="#303030" textLength="12.38" lengthAdjust="spacingAndGlyphs" >−7</text>
<line x1="1265.3" y1="335.5" x2="1269.90" y2="335.5" stroke="#333" stroke-width="1.1"/>
<text x="1273.90" y="339.34" font-size="9.6" fill="#303030" textLength="12.38" lengthAdjust="spacingAndGlyphs" >−6</text>
<line x1="1265.3" y1="305.5" x2="1269.90" y2="305.5" stroke="#333" stroke-width="1.1"/>
<text x="1273.90" y="308.95" font-size="9.6" fill="#303030" textLength="12.38" lengthAdjust="spacingAndGlyphs" >−5</text>
<line x1="1265.3" y1="275.5" x2="1269.90" y2="275.5" stroke="#333" stroke-width="1.1"/>
<text x="1273.90" y="278.56" font-size="9.6" fill="#303030" textLength="12.38" lengthAdjust="spacingAndGlyphs" >−4</text>
<line x1="1265.3" y1="244.5" x2="1269.90" y2="244.5" stroke="#333" stroke-width="1.1"/>
<text x="1273.90" y="248.17" font-size="9.6" fill="#303030" textLength="12.38" lengthAdjust="spacingAndGlyphs" >−3</text>
<line x1="1265.3" y1="214.5" x2="1269.90" y2="214.5" stroke="#333" stroke-width="1.1"/>
<text x="1273.90" y="217.78" font-size="9.6" fill="#303030" textLength="12.38" lengthAdjust="spacingAndGlyphs" >−2</text>
<line x1="1265.3" y1="183.5" x2="1269.90" y2="183.5" stroke="#333" stroke-width="1.1"/>
<text x="1273.90" y="187.39" font-size="9.6" fill="#303030" textLength="12.38" lengthAdjust="spacingAndGlyphs" >−1</text>
<line x1="1265.3" y1="153.5" x2="1269.90" y2="153.5" stroke="#333" stroke-width="1.1"/>
<text x="1273.90" y="157.00" font-size="9.6" fill="#303030" textLength="5.34" lengthAdjust="spacingAndGlyphs" >0</text>
<line x1="1265.3" y1="123.5" x2="1269.90" y2="123.5" stroke="#333" stroke-width="1.1"/>
<text x="1273.90" y="126.61" font-size="9.6" fill="#303030" textLength="5.34" lengthAdjust="spacingAndGlyphs" >1</text>
<line x1="722.5" y1="373.5" x2="722.5" y2="377.70" stroke="#333" stroke-width="1.1"/>
<text x="722.40" y="388.10" font-size="9.2" fill="#303030" text-anchor="middle" textLength="27.94" lengthAdjust="spacingAndGlyphs" >Jan '24</text>
<line x1="781.5" y1="373.5" x2="781.5" y2="377.70" stroke="#333" stroke-width="1.1"/>
<text x="781.77" y="388.10" font-size="9.2" fill="#303030" text-anchor="middle" textLength="29.48" lengthAdjust="spacingAndGlyphs" >Apr '24</text>
<line x1="841.5" y1="373.5" x2="841.5" y2="377.70" stroke="#333" stroke-width="1.1"/>
<text x="841.14" y="388.10" font-size="9.2" fill="#303030" text-anchor="middle" textLength="25.19" lengthAdjust="spacingAndGlyphs" >Jul '24</text>
<line x1="901.5" y1="373.5" x2="901.5" y2="377.70" stroke="#333" stroke-width="1.1"/>
<text x="901.16" y="388.10" font-size="9.2" fill="#303030" text-anchor="middle" textLength="29.47" lengthAdjust="spacingAndGlyphs" >Oct '24</text>
<line x1="961.5" y1="373.5" x2="961.5" y2="377.70" stroke="#333" stroke-width="1.1"/>
<text x="961.18" y="388.10" font-size="9.2" fill="#303030" text-anchor="middle" textLength="27.94" lengthAdjust="spacingAndGlyphs" >Jan '25</text>
<line x1="1019.5" y1="373.5" x2="1019.5" y2="377.70" stroke="#333" stroke-width="1.1"/>
<text x="1019.89" y="388.10" font-size="9.2" fill="#303030" text-anchor="middle" textLength="29.48" lengthAdjust="spacingAndGlyphs" >Apr '25</text>
<line x1="1079.5" y1="373.5" x2="1079.5" y2="377.70" stroke="#333" stroke-width="1.1"/>
<text x="1079.26" y="388.10" font-size="9.2" fill="#303030" text-anchor="middle" textLength="25.19" lengthAdjust="spacingAndGlyphs" >Jul '25</text>
<line x1="1139.5" y1="373.5" x2="1139.5" y2="377.70" stroke="#333" stroke-width="1.1"/>
<text x="1139.28" y="388.10" font-size="9.2" fill="#303030" text-anchor="middle" textLength="29.47" lengthAdjust="spacingAndGlyphs" >Oct '25</text>
<line x1="1199.5" y1="373.5" x2="1199.5" y2="377.70" stroke="#333" stroke-width="1.1"/>
<text x="1199.30" y="388.10" font-size="9.2" fill="#303030" text-anchor="middle" textLength="27.94" lengthAdjust="spacingAndGlyphs" >Jan '26</text>
<line x1="1258.5" y1="373.5" x2="1258.5" y2="377.70" stroke="#333" stroke-width="1.1"/>
<text x="1258.02" y="388.10" font-size="9.2" fill="#303030" text-anchor="middle" textLength="29.48" lengthAdjust="spacingAndGlyphs" >Apr '26</text>
<text x="722.70" y="97.20" font-size="13.6" font-weight="bold" fill="#1b2a4a" textLength="62.40" lengthAdjust="spacingAndGlyphs" stroke="#1b2a4a" stroke-width="0.25">Germany</text>
<g transform="translate(695.4,238.2) rotate(-90)"><text x="0.00" y="0.00" font-size="9.6" fill="#262626" text-anchor="middle" textLength="84.31" lengthAdjust="spacingAndGlyphs" >Sentiment Z-Score</text></g>
<g transform="translate(1296,238.2) rotate(-90)"><text x="0.00" y="0.00" font-size="9.6" fill="#262626" text-anchor="middle" textLength="91.58" lengthAdjust="spacingAndGlyphs" >Mfg Production YoY %</text></g>
<line x1="61.6" y1="751.00" x2="603.6" y2="751.00" stroke="#ebebeb" stroke-width="0.8"/>
<line x1="61.6" y1="720.22" x2="603.6" y2="720.22" stroke="#ebebeb" stroke-width="0.8"/>
<line x1="61.6" y1="689.45" x2="603.6" y2="689.45" stroke="#ebebeb" stroke-width="0.8"/>
<line x1="61.6" y1="658.67" x2="603.6" y2="658.67" stroke="#ebebeb" stroke-width="0.8"/>
<line x1="61.6" y1="627.90" x2="603.6" y2="627.90" stroke="#ebebeb" stroke-width="0.8"/>
<line x1="61.6" y1="597.12" x2="603.6" y2="597.12" stroke="#ebebeb" stroke-width="0.8"/>
<line x1="61.6" y1="566.35" x2="603.6" y2="566.35" stroke="#ebebeb" stroke-width="0.8"/>
<line x1="61.6" y1="535.58" x2="603.6" y2="535.58" stroke="#ebebeb" stroke-width="0.8"/>
<line x1="61.6" y1="504.80" x2="603.6" y2="504.80" stroke="#ebebeb" stroke-width="0.8"/>
<rect x="61.6" y="609.43" width="542.00" height="36.93" fill="#eef0f3"/>
<clipPath id="ca_Italy"><rect x="0" y="0" width="1312" height="627.90"/></clipPath>
<clipPath id="cb_Italy"><rect x="0" y="627.90" width="1312" height="816"/></clipPath>
<path d="M62.0,627.90 L62.0,654.7 L63.0,657.41 L64.0,655.03 L65.0,651.64 L66.0,655.3 L67.1,656.17 L68.2,662.63 L69.3,665.3 L70.43,664.2 L71.57,662.34 L72.7,662.0 L73.8,659.99 L74.9,658.3 L76.0,657.0 L77.35,655.33 L78.7,663.7 L79.7,661.36 L80.7,662.89 L81.7,665.19 L82.7,662.0 L83.8,663.14 L84.9,662.69 L86.0,663.7 L87.35,667.79 L88.7,667.0 L89.8,666.32 L90.9,664.14 L92.0,662.0 L93.0,660.39 L94.0,660.41 L95.0,656.31 L96.0,655.3 L97.1,651.7 L98.2,649.55 L99.3,642.0 L100.43,644.61 L101.57,639.77 L102.7,645.3 L103.8,642.07 L104.9,638.47 L106.0,638.7 L107.0,636.42 L108.0,637.98 L109.0,638.37 L110.0,637.0 L111.08,636.62 L112.15,637.62 L113.22,636.27 L114.3,635.3 L115.43,637.33 L116.57,637.22 L117.7,637.0 L118.78,636.91 L119.85,634.45 L120.92,635.44 L122.0,635.3 L123.17,633.53 L124.35,630.3 L125.53,629.33 L126.7,628.7 L127.8,631.96 L128.9,632.59 L130.0,633.7 L131.07,633.17 L132.15,633.94 L133.23,632.72 L134.3,632.0 L135.43,635.1 L136.57,636.53 L137.7,638.7 L138.8,640.37 L139.9,641.65 L141.0,640.3 L142.1,642.82 L143.2,644.56 L144.3,647.0 L145.4,647.69 L146.5,649.39 L147.6,650.51 L148.7,650.3 L149.7,652.41 L150.7,646.08 L151.7,645.98 L152.7,645.3 L153.8,643.49 L154.9,647.8 L156.0,648.7 L157.0,648.21 L158.0,650.03 L159.0,650.77 L160.0,652.0 L161.1,653.77 L162.2,650.45 L163.3,650.3 L164.43,651.28 L165.57,653.81 L166.7,655.3 L167.8,651.44 L168.9,652.72 L170.0,648.7 L171.1,648.58 L172.2,645.18 L173.3,643.7 L174.43,640.49 L175.57,638.65 L176.7,637.0 L177.77,635.91 L178.85,635.14 L179.93,635.81 L181.0,635.3 L182.1,633.74 L183.2,631.42 L184.3,632.0 L185.5,628.65 L186.7,625.3 L188.0,622.19 L189.3,624.5 L190.43,620.33 L191.57,622.61 L192.7,623.7 L194.0,619.93 L195.3,613.7 L196.3,614.01 L197.3,612.64 L198.3,615.84 L199.3,612.0 L200.3,612.83 L201.3,612.03 L202.3,611.15 L203.3,610.3 L204.4,611.91 L205.5,611.65 L206.6,612.03 L207.7,613.7 L208.77,614.99 L209.85,615.83 L210.93,612.79 L212.0,615.3 L213.15,614.29 L214.3,617.0 L215.5,623.71 L216.7,627.0 L218.0,631.63 L219.3,628.7 L220.65,631.49 L222.0,632.0 L223.15,636.6 L224.3,643.7 L225.5,648.36 L226.7,652.0 L228.0,653.87 L229.3,658.7 L230.43,660.12 L231.57,661.93 L232.7,662.0 L233.8,662.19 L234.9,664.5 L236.0,663.7 L237.1,663.93 L238.2,666.18 L239.3,667.0 L240.43,668.73 L241.57,671.74 L242.7,672.0 L243.8,674.0 L244.9,672.24 L246.0,670.3 L247.0,673.86 L248.0,670.98 L249.0,670.02 L250.0,669.11 L251.0,670.3 L252.1,668.59 L253.2,665.96 L254.3,662.0 L255.43,657.75 L256.57,653.64 L257.7,648.7 L258.85,651.23 L260.0,657.0 L261.1,655.4 L262.2,659.15 L263.3,660.3 L264.4,658.76 L265.5,657.12 L266.6,658.08 L267.7,662.0 L268.77,659.07 L269.85,658.95 L270.93,657.54 L272.0,660.3 L273.0,655.48 L274.0,658.21 L275.0,657.35 L276.0,657.0 L277.1,657.93 L278.2,659.15 L279.3,660.3 L280.3,658.73 L281.3,659.81 L282.3,661.37 L283.3,660.3 L284.4,660.03 L285.5,665.19 L286.6,667.83 L287.7,671.3 L288.8,665.25 L289.9,662.7 L291.0,660.3 L292.1,657.91 L293.2,654.65 L294.3,653.7 L295.43,654.87 L296.57,654.67 L297.7,657.0 L298.8,659.77 L299.9,660.36 L301.0,662.0 L302.1,661.25 L303.2,658.45 L304.3,663.7 L305.43,661.73 L306.57,661.15 L307.7,660.3 L308.77,661.35 L309.85,658.82 L310.93,663.1 L312.0,662.0 L313.0,661.31 L314.0,661.67 L315.0,660.87 L316.0,659.5 L317.0,661.03 L318.0,658.81 L319.0,656.7 L320.0,657.0 L321.07,656.47 L322.15,655.65 L323.23,655.31 L324.3,655.3 L325.43,653.83 L326.57,652.62 L327.7,650.3 L328.8,647.17 L329.9,645.92 L331.0,643.7 L332.1,642.93 L333.2,647.51 L334.3,647.0 L335.43,645.9 L336.57,643.88 L337.7,640.3 L338.8,636.71 L339.9,637.2 L341.0,635.3 L342.07,635.19 L343.15,635.33 L344.23,634.46 L345.3,632.0 L346.43,634.75 L347.57,638.95 L348.7,640.3 L349.8,638.91 L350.9,635.82 L352.0,635.3 L353.1,632.74 L354.2,626.96 L355.3,625.3 L356.5,622.78 L357.7,623.7 L358.85,626.21 L360.0,628.7 L361.35,629.24 L362.7,637.0 L363.8,634.6 L364.9,639.37 L366.0,643.7 L367.1,640.93 L368.2,640.81 L369.3,640.3 L370.43,641.76 L371.57,645.23 L372.7,648.7 L373.8,647.85 L374.9,647.66 L376.0,652.0 L377.1,650.93 L378.2,653.39 L379.3,655.3 L380.43,652.21 L381.57,649.26 L382.7,648.7 L383.7,648.44 L384.7,645.73 L385.7,644.48 L386.7,643.7 L387.77,640.56 L388.85,638.35 L389.93,641.18 L391.0,638.7 L392.1,635.92 L393.2,633.85 L394.3,632.0 L395.4,632.27 L396.5,631.92 L397.6,635.95 L398.7,635.3 L399.8,635.83 L400.9,634.8 L402.0,628.7 L403.1,629.19 L404.2,628.83 L405.3,625.3 L406.3,622.86 L407.3,623.72 L408.3,622.88 L409.3,620.3 L410.43,621.41 L411.57,625.21 L412.7,628.7 L413.8,631.37 L414.9,631.23 L416.0,632.0 L417.1,635.33 L418.2,635.29 L419.3,635.3 L420.43,635.92 L421.57,638.86 L422.7,640.3 L424.0,646.24 L425.3,648.7 L426.43,647.2 L427.57,644.58 L428.7,640.3 L429.8,639.81 L430.9,643.1 L432.0,645.3 L433.15,645.73 L434.3,648.7 L435.43,643.95 L436.57,637.86 L437.7,633.7 L438.8,633.75 L439.9,635.01 L441.0,635.3 L442.1,636.31 L443.2,635.88 L444.3,637.0 L445.43,637.58 L446.57,638.14 L447.7,638.7 L448.77,636.22 L449.85,632.22 L450.93,632.32 L452.0,627.0 L453.15,626.5 L454.3,623.7 L455.5,623.24 L456.7,620.3 L458.0,620.69 L459.3,617.0 L460.65,611.34 L462.0,605.3 L463.15,601.73 L464.3,597.0 L465.5,603.86 L466.7,607.0 L468.0,613.95 L469.3,615.3 L470.65,609.6 L472.0,602.0 L473.15,599.86 L474.3,598.7 L475.5,587.09 L476.7,582.0 L477.7,575.11 L478.7,573.7 L479.85,570.43 L481.0,573.7 L482.15,582.39 L483.3,588.7 L484.3,592.88 L485.3,598.7 L486.5,595.63 L487.7,588.7 L488.8,590.32 L489.9,592.0 L491.0,592.0 L492.1,595.77 L493.2,593.68 L494.3,600.3 L495.5,595.66 L496.7,592.0 L498.0,586.03 L499.3,583.7 L500.15,591.19 L501.0,600.3 L502.1,592.77 L503.2,588.99 L504.3,580.3 L505.43,587.93 L506.57,590.31 L507.7,600.3 L508.8,598.02 L509.9,592.24 L511.0,588.7 L512.15,582.73 L513.3,577.0 L514.43,579.06 L515.57,584.42 L516.7,583.7 L518.0,575.0 L519.3,573.7 L520.65,578.96 L522.0,585.3 L523.15,590.55 L524.3,600.3 L525.5,596.47 L526.7,597.0 L528.0,602.51 L529.3,612.0 L530.65,615.33 L532.0,618.7 L533.15,625.33 L534.3,635.3 L535.43,635.81 L536.57,640.18 L537.7,638.7 L538.8,641.31 L539.9,643.52 L541.0,645.3 L542.1,647.9 L543.2,648.46 L544.3,650.3 L545.43,645.72 L546.57,645.79 L547.7,645.3 L548.8,643.23 L549.9,647.0 L551.0,645.3 L552.15,639.59 L553.3,635.3 L554.43,632.72 L555.57,631.21 L556.7,632.0 L558.0,621.22 L559.3,618.7 L560.43,616.04 L561.57,613.21 L562.7,612.0 L563.8,610.35 L564.9,608.39 L566.0,610.3 L567.1,610.29 L568.2,605.97 L569.3,607.0 L570.43,603.95 L571.57,601.7 L572.7,602.0 L574.0,603.7 L575.0,597.03 L576.0,595.3 L577.15,598.33 L578.3,600.3 L579.5,602.29 L580.7,602.0 L581.7,602.31 L582.7,598.7 L583.85,608.28 L585.0,610.3 L586.15,614.43 L587.3,617.0 L588.65,619.93 L590.0,627.0 L591.35,623.16 L592.7,620.3 L593.85,615.96 L595.0,615.3 L596.15,612.0 L597.3,607.0 L598.65,608.32 L600.0,613.7 L601.35,616.91 L602.7,618.7 L604.0,627.0 L604.0,627.90 Z" fill="#3f6cc0" fill-opacity="0.2" clip-path="url(#ca_Italy)"/>
<path d="M62.0,627.90 L62.0,654.7 L63.0,657.41 L64.0,655.03 L65.0,651.64 L66.0,655.3 L67.1,656.17 L68.2,662.63 L69.3,665.3 L70.43,664.2 L71.57,662.34 L72.7,662.0 L73.8,659.99 L74.9,658.3 L76.0,657.0 L77.35,655.33 L78.7,663.7 L79.7,661.36 L80.7,662.89 L81.7,665.19 L82.7,662.0 L83.8,663.14 L84.9,662.69 L86.0,663.7 L87.35,667.79 L88.7,667.0 L89.8,666.32 L90.9,664.14 L92.0,662.0 L93.0,660.39 L94.0,660.41 L95.0,656.31 L96.0,655.3 L97.1,651.7 L98.2,649.55 L99.3,642.0 L100.43,644.61 L101.57,639.77 L102.7,645.3 L103.8,642.07 L104.9,638.47 L106.0,638.7 L107.0,636.42 L108.0,637.98 L109.0,638.37 L110.0,637.0 L111.08,636.62 L112.15,637.62 L113.22,636.27 L114.3,635.3 L115.43,637.33 L116.57,637.22 L117.7,637.0 L118.78,636.91 L119.85,634.45 L120.92,635.44 L122.0,635.3 L123.17,633.53 L124.35,630.3 L125.53,629.33 L126.7,628.7 L127.8,631.96 L128.9,632.59 L130.0,633.7 L131.07,633.17 L132.15,633.94 L133.23,632.72 L134.3,632.0 L135.43,635.1 L136.57,636.53 L137.7,638.7 L138.8,640.37 L139.9,641.65 L141.0,640.3 L142.1,642.82 L143.2,644.56 L144.3,647.0 L145.4,647.69 L146.5,649.39 L147.6,650.51 L148.7,650.3 L149.7,652.41 L150.7,646.08 L151.7,645.98 L152.7,645.3 L153.8,643.49 L154.9,647.8 L156.0,648.7 L157.0,648.21 L158.0,650.03 L159.0,650.77 L160.0,652.0 L161.1,653.77 L162.2,650.45 L163.3,650.3 L164.43,651.28 L165.57,653.81 L166.7,655.3 L167.8,651.44 L168.9,652.72 L170.0,648.7 L171.1,648.58 L172.2,645.18 L173.3,643.7 L174.43,640.49 L175.57,638.65 L176.7,637.0 L177.77,635.91 L178.85,635.14 L179.93,635.81 L181.0,635.3 L182.1,633.74 L183.2,631.42 L184.3,632.0 L185.5,628.65 L186.7,625.3 L188.0,622.19 L189.3,624.5 L190.43,620.33 L191.57,622.61 L192.7,623.7 L194.0,619.93 L195.3,613.7 L196.3,614.01 L197.3,612.64 L198.3,615.84 L199.3,612.0 L200.3,612.83 L201.3,612.03 L202.3,611.15 L203.3,610.3 L204.4,611.91 L205.5,611.65 L206.6,612.03 L207.7,613.7 L208.77,614.99 L209.85,615.83 L210.93,612.79 L212.0,615.3 L213.15,614.29 L214.3,617.0 L215.5,623.71 L216.7,627.0 L218.0,631.63 L219.3,628.7 L220.65,631.49 L222.0,632.0 L223.15,636.6 L224.3,643.7 L225.5,648.36 L226.7,652.0 L228.0,653.87 L229.3,658.7 L230.43,660.12 L231.57,661.93 L232.7,662.0 L233.8,662.19 L234.9,664.5 L236.0,663.7 L237.1,663.93 L238.2,666.18 L239.3,667.0 L240.43,668.73 L241.57,671.74 L242.7,672.0 L243.8,674.0 L244.9,672.24 L246.0,670.3 L247.0,673.86 L248.0,670.98 L249.0,670.02 L250.0,669.11 L251.0,670.3 L252.1,668.59 L253.2,665.96 L254.3,662.0 L255.43,657.75 L256.57,653.64 L257.7,648.7 L258.85,651.23 L260.0,657.0 L261.1,655.4 L262.2,659.15 L263.3,660.3 L264.4,658.76 L265.5,657.12 L266.6,658.08 L267.7,662.0 L268.77,659.07 L269.85,658.95 L270.93,657.54 L272.0,660.3 L273.0,655.48 L274.0,658.21 L275.0,657.35 L276.0,657.0 L277.1,657.93 L278.2,659.15 L279.3,660.3 L280.3,658.73 L281.3,659.81 L282.3,661.37 L283.3,660.3 L284.4,660.03 L285.5,665.19 L286.6,667.83 L287.7,671.3 L288.8,665.25 L289.9,662.7 L291.0,660.3 L292.1,657.91 L293.2,654.65 L294.3,653.7 L295.43,654.87 L296.57,654.67 L297.7,657.0 L298.8,659.77 L299.9,660.36 L301.0,662.0 L302.1,661.25 L303.2,658.45 L304.3,663.7 L305.43,661.73 L306.57,661.15 L307.7,660.3 L308.77,661.35 L309.85,658.82 L310.93,663.1 L312.0,662.0 L313.0,661.31 L314.0,661.67 L315.0,660.87 L316.0,659.5 L317.0,661.03 L318.0,658.81 L319.0,656.7 L320.0,657.0 L321.07,656.47 L322.15,655.65 L323.23,655.31 L324.3,655.3 L325.43,653.83 L326.57,652.62 L327.7,650.3 L328.8,647.17 L329.9,645.92 L331.0,643.7 L332.1,642.93 L333.2,647.51 L334.3,647.0 L335.43,645.9 L336.57,643.88 L337.7,640.3 L338.8,636.71 L339.9,637.2 L341.0,635.3 L342.07,635.19 L343.15,635.33 L344.23,634.46 L345.3,632.0 L346.43,634.75 L347.57,638.95 L348.7,640.3 L349.8,638.91 L350.9,635.82 L352.0,635.3 L353.1,632.74 L354.2,626.96 L355.3,625.3 L356.5,622.78 L357.7,623.7 L358.85,626.21 L360.0,628.7 L361.35,629.24 L362.7,637.0 L363.8,634.6 L364.9,639.37 L366.0,643.7 L367.1,640.93 L368.2,640.81 L369.3,640.3 L370.43,641.76 L371.57,645.23 L372.7,648.7 L373.8,647.85 L374.9,647.66 L376.0,652.0 L377.1,650.93 L378.2,653.39 L379.3,655.3 L380.43,652.21 L381.57,649.26 L382.7,648.7 L383.7,648.44 L384.7,645.73 L385.7,644.48 L386.7,643.7 L387.77,640.56 L388.85,638.35 L389.93,641.18 L391.0,638.7 L392.1,635.92 L393.2,633.85 L394.3,632.0 L395.4,632.27 L396.5,631.92 L397.6,635.95 L398.7,635.3 L399.8,635.83 L400.9,634.8 L402.0,628.7 L403.1,629.19 L404.2,628.83 L405.3,625.3 L406.3,622.86 L407.3,623.72 L408.3,622.88 L409.3,620.3 L410.43,621.41 L411.57,625.21 L412.7,628.7 L413.8,631.37 L414.9,631.23 L416.0,632.0 L417.1,635.33 L418.2,635.29 L419.3,635.3 L420.43,635.92 L421.57,638.86 L422.7,640.3 L424.0,646.24 L425.3,648.7 L426.43,647.2 L427.57,644.58 L428.7,640.3 L429.8,639.81 L430.9,643.1 L432.0,645.3 L433.15,645.73 L434.3,648.7 L435.43,643.95 L436.57,637.86 L437.7,633.7 L438.8,633.75 L439.9,635.01 L441.0,635.3 L442.1,636.31 L443.2,635.88 L444.3,637.0 L445.43,637.58 L446.57,638.14 L447.7,638.7 L448.77,636.22 L449.85,632.22 L450.93,632.32 L452.0,627.0 L453.15,626.5 L454.3,623.7 L455.5,623.24 L456.7,620.3 L458.0,620.69 L459.3,617.0 L460.65,611.34 L462.0,605.3 L463.15,601.73 L464.3,597.0 L465.5,603.86 L466.7,607.0 L468.0,613.95 L469.3,615.3 L470.65,609.6 L472.0,602.0 L473.15,599.86 L474.3,598.7 L475.5,587.09 L476.7,582.0 L477.7,575.11 L478.7,573.7 L479.85,570.43 L481.0,573.7 L482.15,582.39 L483.3,588.7 L484.3,592.88 L485.3,598.7 L486.5,595.63 L487.7,588.7 L488.8,590.32 L489.9,592.0 L491.0,592.0 L492.1,595.77 L493.2,593.68 L494.3,600.3 L495.5,595.66 L496.7,592.0 L498.0,586.03 L499.3,583.7 L500.15,591.19 L501.0,600.3 L502.1,592.77 L503.2,588.99 L504.3,580.3 L505.43,587.93 L506.57,590.31 L507.7,600.3 L508.8,598.02 L509.9,592.24 L511.0,588.7 L512.15,582.73 L513.3,577.0 L514.43,579.06 L515.57,584.42 L516.7,583.7 L518.0,575.0 L519.3,573.7 L520.65,578.96 L522.0,585.3 L523.15,590.55 L524.3,600.3 L525.5,596.47 L526.7,597.0 L528.0,602.51 L529.3,612.0 L530.65,615.33 L532.0,618.7 L533.15,625.33 L534.3,635.3 L535.43,635.81 L536.57,640.18 L537.7,638.7 L538.8,641.31 L539.9,643.52 L541.0,645.3 L542.1,647.9 L543.2,648.46 L544.3,650.3 L545.43,645.72 L546.57,645.79 L547.7,645.3 L548.8,643.23 L549.9,647.0 L551.0,645.3 L552.15,639.59 L553.3,635.3 L554.43,632.72 L555.57,631.21 L556.7,632.0 L558.0,621.22 L559.3,618.7 L560.43,616.04 L561.57,613.21 L562.7,612.0 L563.8,610.35 L564.9,608.39 L566.0,610.3 L567.1,610.29 L568.2,605.97 L569.3,607.0 L570.43,603.95 L571.57,601.7 L572.7,602.0 L574.0,603.7 L575.0,597.03 L576.0,595.3 L577.15,598.33 L578.3,600.3 L579.5,602.29 L580.7,602.0 L581.7,602.31 L582.7,598.7 L583.85,608.28 L585.0,610.3 L586.15,614.43 L587.3,617.0 L588.65,619.93 L590.0,627.0 L591.35,623.16 L592.7,620.3 L593.85,615.96 L595.0,615.3 L596.15,612.0 L597.3,607.0 L598.65,608.32 L600.0,613.7 L601.35,616.91 L602.7,618.7 L604.0,627.0 L604.0,627.90 Z" fill="#c0504d" fill-opacity="0.2" clip-path="url(#cb_Italy)"/>
<line x1="61.6" y1="627.90" x2="603.6" y2="627.90" stroke="#b9b4bb" stroke-width="0.9"/>
<line x1="575.0" y1="493.8" x2="575.0" y2="763.5" stroke="#aaaaaa" stroke-width="0.8" stroke-dasharray="1.2,1.6"/>
<text x="575.00" y="492.00" font-size="7.6" fill="#666" text-anchor="middle" textLength="26.00" lengthAdjust="spacingAndGlyphs" >Feb '26</text>
<path d="M62.00,686.30 C63.50,686.13 68.12,685.85 71.00,685.30 C73.88,684.75 76.52,684.38 79.30,683.00 C82.08,681.62 84.92,679.12 87.70,677.00 C90.48,674.88 93.23,672.35 96.00,670.30 C98.77,668.25 101.52,665.92 104.30,664.70 C107.08,663.48 109.92,663.00 112.70,663.00 C115.48,663.00 118.23,664.03 121.00,664.70 C123.77,665.37 126.52,666.62 129.30,667.00 C132.08,667.38 134.92,667.12 137.70,667.00 C140.48,666.88 143.23,666.02 146.00,666.30 C148.77,666.58 151.52,667.47 154.30,668.70 C157.08,669.93 159.92,672.20 162.70,673.70 C165.48,675.20 168.23,676.77 171.00,677.70 C173.77,678.63 176.52,678.75 179.30,679.30 C182.08,679.85 185.20,680.00 187.70,681.00 C190.20,682.00 191.80,683.18 194.30,685.30 C196.80,687.42 199.92,690.80 202.70,693.70 C205.48,696.60 208.23,699.93 211.00,702.70 C213.77,705.47 216.52,708.37 219.30,710.30 C222.08,712.23 225.03,713.47 227.70,714.30 C230.37,715.13 232.53,715.57 235.30,715.30 C238.07,715.03 241.40,713.92 244.30,712.70 C247.20,711.48 249.92,710.07 252.70,708.00 C255.48,705.93 258.23,702.97 261.00,700.30 C263.77,697.63 266.80,694.22 269.30,692.00 C271.80,689.78 274.05,687.67 276.00,687.00 C277.95,686.33 279.33,686.33 281.00,688.00 C282.67,689.67 284.33,693.00 286.00,697.00 C287.67,701.00 289.33,707.00 291.00,712.00 C292.67,717.00 294.33,723.00 296.00,727.00 C297.67,731.00 299.33,734.33 301.00,736.00 C302.67,737.67 304.33,737.95 306.00,737.00 C307.67,736.05 309.33,733.80 311.00,730.30 C312.67,726.80 314.33,721.27 316.00,716.00 C317.67,710.73 319.33,704.65 321.00,698.70 C322.67,692.75 324.33,684.47 326.00,680.30 C327.67,676.13 329.33,674.92 331.00,673.70 C332.67,672.48 334.05,672.28 336.00,673.00 C337.95,673.72 340.48,676.62 342.70,678.00 C344.92,679.38 347.08,681.47 349.30,681.30 C351.52,681.13 353.77,679.93 356.00,677.00 C358.23,674.07 360.48,669.25 362.70,663.70 C364.92,658.15 367.08,650.37 369.30,643.70 C371.52,637.03 373.77,629.10 376.00,623.70 C378.23,618.30 380.48,614.37 382.70,611.30 C384.92,608.23 387.08,606.40 389.30,605.30 C391.52,604.20 393.50,604.13 396.00,604.70 C398.50,605.27 401.52,607.77 404.30,608.70 C407.08,609.63 410.20,610.87 412.70,610.30 C415.20,609.73 417.08,607.80 419.30,605.30 C421.52,602.80 423.77,600.02 426.00,595.30 C428.23,590.58 430.48,582.83 432.70,577.00 C434.92,571.17 437.08,564.38 439.30,560.30 C441.52,556.22 444.05,553.88 446.00,552.50 C447.95,551.12 449.05,551.25 451.00,552.00 C452.95,552.75 455.20,555.33 457.70,557.00 C460.20,558.67 463.23,561.72 466.00,562.00 C468.77,562.28 471.52,560.20 474.30,558.70 C477.08,557.20 480.20,554.12 482.70,553.00 C485.20,551.88 486.80,551.62 489.30,552.00 C491.80,552.38 494.92,554.30 497.70,555.30 C500.48,556.30 503.50,558.10 506.00,558.00 C508.50,557.90 510.48,557.37 512.70,554.70 C514.92,552.03 517.08,546.33 519.30,542.00 C521.52,537.67 523.77,532.32 526.00,528.70 C528.23,525.08 530.48,521.97 532.70,520.30 C534.92,518.63 537.20,518.13 539.30,518.70 C541.40,519.27 543.35,520.37 545.30,523.70 C547.25,527.03 549.22,532.60 551.00,538.70 C552.78,544.80 554.33,553.37 556.00,560.30 C557.67,567.23 559.33,574.47 561.00,580.30 C562.67,586.13 564.33,591.68 566.00,595.30 C567.67,598.92 569.45,600.33 571.00,602.00 C572.55,603.67 574.58,604.75 575.30,605.30" fill="none" stroke="#3a3a3a" stroke-width="2.5" stroke-linejoin="round" stroke-linecap="round"/>
<path d="M62.0,654.7 L63.0,657.41 L64.0,655.03 L65.0,651.64 L66.0,655.3 L67.1,656.17 L68.2,662.63 L69.3,665.3 L70.43,664.2 L71.57,662.34 L72.7,662.0 L73.8,659.99 L74.9,658.3 L76.0,657.0 L77.35,655.33 L78.7,663.7 L79.7,661.36 L80.7,662.89 L81.7,665.19 L82.7,662.0 L83.8,663.14 L84.9,662.69 L86.0,663.7 L87.35,667.79 L88.7,667.0 L89.8,666.32 L90.9,664.14 L92.0,662.0 L93.0,660.39 L94.0,660.41 L95.0,656.31 L96.0,655.3 L97.1,651.7 L98.2,649.55 L99.3,642.0 L100.43,644.61 L101.57,639.77 L102.7,645.3 L103.8,642.07 L104.9,638.47 L106.0,638.7 L107.0,636.42 L108.0,637.98 L109.0,638.37 L110.0,637.0 L111.08,636.62 L112.15,637.62 L113.22,636.27 L114.3,635.3 L115.43,637.33 L116.57,637.22 L117.7,637.0 L118.78,636.91 L119.85,634.45 L120.92,635.44 L122.0,635.3 L123.17,633.53 L124.35,630.3 L125.53,629.33 L126.7,628.7 L127.8,631.96 L128.9,632.59 L130.0,633.7 L131.07,633.17 L132.15,633.94 L133.23,632.72 L134.3,632.0 L135.43,635.1 L136.57,636.53 L137.7,638.7 L138.8,640.37 L139.9,641.65 L141.0,640.3 L142.1,642.82 L143.2,644.56 L144.3,647.0 L145.4,647.69 L146.5,649.39 L147.6,650.51 L148.7,650.3 L149.7,652.41 L150.7,646.08 L151.7,645.98 L152.7,645.3 L153.8,643.49 L154.9,647.8 L156.0,648.7 L157.0,648.21 L158.0,650.03 L159.0,650.77 L160.0,652.0 L161.1,653.77 L162.2,650.45 L163.3,650.3 L164.43,651.28 L165.57,653.81 L166.7,655.3 L167.8,651.44 L168.9,652.72 L170.0,648.7 L171.1,648.58 L172.2,645.18 L173.3,643.7 L174.43,640.49 L175.57,638.65 L176.7,637.0 L177.77,635.91 L178.85,635.14 L179.93,635.81 L181.0,635.3 L182.1,633.74 L183.2,631.42 L184.3,632.0 L185.5,628.65 L186.7,625.3 L188.0,622.19 L189.3,624.5 L190.43,620.33 L191.57,622.61 L192.7,623.7 L194.0,619.93 L195.3,613.7 L196.3,614.01 L197.3,612.64 L198.3,615.84 L199.3,612.0 L200.3,612.83 L201.3,612.03 L202.3,611.15 L203.3,610.3 L204.4,611.91 L205.5,611.65 L206.6,612.03 L207.7,613.7 L208.77,614.99 L209.85,615.83 L210.93,612.79 L212.0,615.3 L213.15,614.29 L214.3,617.0 L215.5,623.71 L216.7,627.0 L218.0,631.63 L219.3,628.7 L220.65,631.49 L222.0,632.0 L223.15,636.6 L224.3,643.7 L225.5,648.36 L226.7,652.0 L228.0,653.87 L229.3,658.7 L230.43,660.12 L231.57,661.93 L232.7,662.0 L233.8,662.19 L234.9,664.5 L236.0,663.7 L237.1,663.93 L238.2,666.18 L239.3,667.0 L240.43,668.73 L241.57,671.74 L242.7,672.0 L243.8,674.0 L244.9,672.24 L246.0,670.3 L247.0,673.86 L248.0,670.98 L249.0,670.02 L250.0,669.11 L251.0,670.3 L252.1,668.59 L253.2,665.96 L254.3,662.0 L255.43,657.75 L256.57,653.64 L257.7,648.7 L258.85,651.23 L260.0,657.0 L261.1,655.4 L262.2,659.15 L263.3,660.3 L264.4,658.76 L265.5,657.12 L266.6,658.08 L267.7,662.0 L268.77,659.07 L269.85,658.95 L270.93,657.54 L272.0,660.3 L273.0,655.48 L274.0,658.21 L275.0,657.35 L276.0,657.0 L277.1,657.93 L278.2,659.15 L279.3,660.3 L280.3,658.73 L281.3,659.81 L282.3,661.37 L283.3,660.3 L284.4,660.03 L285.5,665.19 L286.6,667.83 L287.7,671.3 L288.8,665.25 L289.9,662.7 L291.0,660.3 L292.1,657.91 L293.2,654.65 L294.3,653.7 L295.43,654.87 L296.57,654.67 L297.7,657.0 L298.8,659.77 L299.9,660.36 L301.0,662.0 L302.1,661.25 L303.2,658.45 L304.3,663.7 L305.43,661.73 L306.57,661.15 L307.7,660.3 L308.77,661.35 L309.85,658.82 L310.93,663.1 L312.0,662.0 L313.0,661.31 L314.0,661.67 L315.0,660.87 L316.0,659.5 L317.0,661.03 L318.0,658.81 L319.0,656.7 L320.0,657.0 L321.07,656.47 L322.15,655.65 L323.23,655.31 L324.3,655.3 L325.43,653.83 L326.57,652.62 L327.7,650.3 L328.8,647.17 L329.9,645.92 L331.0,643.7 L332.1,642.93 L333.2,647.51 L334.3,647.0 L335.43,645.9 L336.57,643.88 L337.7,640.3 L338.8,636.71 L339.9,637.2 L341.0,635.3 L342.07,635.19 L343.15,635.33 L344.23,634.46 L345.3,632.0 L346.43,634.75 L347.57,638.95 L348.7,640.3 L349.8,638.91 L350.9,635.82 L352.0,635.3 L353.1,632.74 L354.2,626.96 L355.3,625.3 L356.5,622.78 L357.7,623.7 L358.85,626.21 L360.0,628.7 L361.35,629.24 L362.7,637.0 L363.8,634.6 L364.9,639.37 L366.0,643.7 L367.1,640.93 L368.2,640.81 L369.3,640.3 L370.43,641.76 L371.57,645.23 L372.7,648.7 L373.8,647.85 L374.9,647.66 L376.0,652.0 L377.1,650.93 L378.2,653.39 L379.3,655.3 L380.43,652.21 L381.57,649.26 L382.7,648.7 L383.7,648.44 L384.7,645.73 L385.7,644.48 L386.7,643.7 L387.77,640.56 L388.85,638.35 L389.93,641.18 L391.0,638.7 L392.1,635.92 L393.2,633.85 L394.3,632.0 L395.4,632.27 L396.5,631.92 L397.6,635.95 L398.7,635.3 L399.8,635.83 L400.9,634.8 L402.0,628.7 L403.1,629.19 L404.2,628.83 L405.3,625.3 L406.3,622.86 L407.3,623.72 L408.3,622.88 L409.3,620.3 L410.43,621.41 L411.57,625.21 L412.7,628.7 L413.8,631.37 L414.9,631.23 L416.0,632.0 L417.1,635.33 L418.2,635.29 L419.3,635.3 L420.43,635.92 L421.57,638.86 L422.7,640.3 L424.0,646.24 L425.3,648.7 L426.43,647.2 L427.57,644.58 L428.7,640.3 L429.8,639.81 L430.9,643.1 L432.0,645.3 L433.15,645.73 L434.3,648.7 L435.43,643.95 L436.57,637.86 L437.7,633.7 L438.8,633.75 L439.9,635.01 L441.0,635.3 L442.1,636.31 L443.2,635.88 L444.3,637.0 L445.43,637.58 L446.57,638.14 L447.7,638.7 L448.77,636.22 L449.85,632.22 L450.93,632.32 L452.0,627.0 L453.15,626.5 L454.3,623.7 L455.5,623.24 L456.7,620.3 L458.0,620.69 L459.3,617.0 L460.65,611.34 L462.0,605.3 L463.15,601.73 L464.3,597.0 L465.5,603.86 L466.7,607.0 L468.0,613.95 L469.3,615.3 L470.65,609.6 L472.0,602.0 L473.15,599.86 L474.3,598.7 L475.5,587.09 L476.7,582.0 L477.7,575.11 L478.7,573.7 L479.85,570.43 L481.0,573.7 L482.15,582.39 L483.3,588.7 L484.3,592.88 L485.3,598.7 L486.5,595.63 L487.7,588.7 L488.8,590.32 L489.9,592.0 L491.0,592.0 L492.1,595.77 L493.2,593.68 L494.3,600.3 L495.5,595.66 L496.7,592.0 L498.0,586.03 L499.3,583.7 L500.15,591.19 L501.0,600.3 L502.1,592.77 L503.2,588.99 L504.3,580.3 L505.43,587.93 L506.57,590.31 L507.7,600.3 L508.8,598.02 L509.9,592.24 L511.0,588.7 L512.15,582.73 L513.3,577.0 L514.43,579.06 L515.57,584.42 L516.7,583.7 L518.0,575.0 L519.3,573.7 L520.65,578.96 L522.0,585.3 L523.15,590.55 L524.3,600.3 L525.5,596.47 L526.7,597.0 L528.0,602.51 L529.3,612.0 L530.65,615.33 L532.0,618.7 L533.15,625.33 L534.3,635.3 L535.43,635.81 L536.57,640.18 L537.7,638.7 L538.8,641.31 L539.9,643.52 L541.0,645.3 L542.1,647.9 L543.2,648.46 L544.3,650.3 L545.43,645.72 L546.57,645.79 L547.7,645.3 L548.8,643.23 L549.9,647.0 L551.0,645.3 L552.15,639.59 L553.3,635.3 L554.43,632.72 L555.57,631.21 L556.7,632.0 L558.0,621.22 L559.3,618.7 L560.43,616.04 L561.57,613.21 L562.7,612.0 L563.8,610.35 L564.9,608.39 L566.0,610.3 L567.1,610.29 L568.2,605.97 L569.3,607.0 L570.43,603.95 L571.57,601.7 L572.7,602.0 L574.0,603.7 L575.0,597.03 L576.0,595.3 L577.15,598.33 L578.3,600.3 L579.5,602.29 L580.7,602.0 L581.7,602.31 L582.7,598.7 L583.85,608.28 L585.0,610.3 L586.15,614.43 L587.3,617.0 L588.65,619.93 L590.0,627.0 L591.35,623.16 L592.7,620.3 L593.85,615.96 L595.0,615.3 L596.15,612.0 L597.3,607.0 L598.65,608.32 L600.0,613.7 L601.35,616.91 L602.7,618.7 L604.0,627.0" fill="none" stroke="#3b63a0" stroke-width="2.4" stroke-linejoin="round"/>
<line x1="61.6" y1="492.8" x2="61.6" y2="763.5" stroke="#777" stroke-width="1.1"/>
<line x1="61.1" y1="763.5" x2="603.6" y2="763.5" stroke="#444" stroke-width="1.1"/>
<line x1="57.00" y1="751.5" x2="61.6" y2="751.5" stroke="#333" stroke-width="1.1"/>
<text x="52.50" y="754.50" font-size="9.6" fill="#303030" text-anchor="end" textLength="20.40" lengthAdjust="spacingAndGlyphs" >−2.0</text>
<line x1="57.00" y1="720.5" x2="61.6" y2="720.5" stroke="#333" stroke-width="1.1"/>
<text x="52.50" y="723.72" font-size="9.6" fill="#303030" text-anchor="end" textLength="20.40" lengthAdjust="spacingAndGlyphs" >−1.5</text>
<line x1="57.00" y1="689.5" x2="61.6" y2="689.5" stroke="#333" stroke-width="1.1"/>
<text x="52.50" y="692.95" font-size="9.6" fill="#303030" text-anchor="end" textLength="20.40" lengthAdjust="spacingAndGlyphs" >−1.0</text>
<line x1="57.00" y1="658.5" x2="61.6" y2="658.5" stroke="#333" stroke-width="1.1"/>
<text x="52.50" y="662.17" font-size="9.6" fill="#303030" text-anchor="end" textLength="20.40" lengthAdjust="spacingAndGlyphs" >−0.5</text>
<line x1="57.00" y1="627.5" x2="61.6" y2="627.5" stroke="#333" stroke-width="1.1"/>
<text x="52.50" y="631.40" font-size="9.6" fill="#303030" text-anchor="end" textLength="13.36" lengthAdjust="spacingAndGlyphs" >0.0</text>
<line x1="57.00" y1="597.5" x2="61.6" y2="597.5" stroke="#333" stroke-width="1.1"/>
<text x="52.50" y="600.62" font-size="9.6" fill="#303030" text-anchor="end" textLength="13.36" lengthAdjust="spacingAndGlyphs" >0.5</text>
<line x1="57.00" y1="566.5" x2="61.6" y2="566.5" stroke="#333" stroke-width="1.1"/>
<text x="52.50" y="569.85" font-size="9.6" fill="#303030" text-anchor="end" textLength="13.36" lengthAdjust="spacingAndGlyphs" >1.0</text>
<line x1="57.00" y1="535.5" x2="61.6" y2="535.5" stroke="#333" stroke-width="1.1"/>
<text x="52.50" y="539.08" font-size="9.6" fill="#303030" text-anchor="end" textLength="13.36" lengthAdjust="spacingAndGlyphs" >1.5</text>
<line x1="57.00" y1="504.5" x2="61.6" y2="504.5" stroke="#333" stroke-width="1.1"/>
<text x="52.50" y="508.30" font-size="9.6" fill="#303030" text-anchor="end" textLength="13.36" lengthAdjust="spacingAndGlyphs" >2.0</text>
<line x1="603.6" y1="742.5" x2="608.20" y2="742.5" stroke="#333" stroke-width="1.1"/>
<text x="612.20" y="745.50" font-size="9.6" fill="#303030" textLength="12.38" lengthAdjust="spacingAndGlyphs" >−6</text>
<line x1="603.6" y1="684.5" x2="608.20" y2="684.5" stroke="#333" stroke-width="1.1"/>
<text x="612.20" y="687.90" font-size="9.6" fill="#303030" textLength="12.38" lengthAdjust="spacingAndGlyphs" >−4</text>
<line x1="603.6" y1="626.5" x2="608.20" y2="626.5" stroke="#333" stroke-width="1.1"/>
<text x="612.20" y="630.30" font-size="9.6" fill="#303030" textLength="12.38" lengthAdjust="spacingAndGlyphs" >−2</text>
<line x1="603.6" y1="569.5" x2="608.20" y2="569.5" stroke="#333" stroke-width="1.1"/>
<text x="612.20" y="572.70" font-size="9.6" fill="#303030" textLength="5.34" lengthAdjust="spacingAndGlyphs" >0</text>
<line x1="603.6" y1="511.5" x2="608.20" y2="511.5" stroke="#333" stroke-width="1.1"/>
<text x="612.20" y="515.10" font-size="9.6" fill="#303030" textLength="5.34" lengthAdjust="spacingAndGlyphs" >2</text>
<line x1="61.5" y1="763.5" x2="61.5" y2="767.70" stroke="#333" stroke-width="1.1"/>
<text x="61.60" y="778.10" font-size="9.2" fill="#303030" text-anchor="middle" textLength="27.94" lengthAdjust="spacingAndGlyphs" >Jan '24</text>
<line x1="120.5" y1="763.5" x2="120.5" y2="767.70" stroke="#333" stroke-width="1.1"/>
<text x="120.72" y="778.10" font-size="9.2" fill="#303030" text-anchor="middle" textLength="29.48" lengthAdjust="spacingAndGlyphs" >Apr '24</text>
<line x1="179.5" y1="763.5" x2="179.5" y2="767.70" stroke="#333" stroke-width="1.1"/>
<text x="179.85" y="778.10" font-size="9.2" fill="#303030" text-anchor="middle" textLength="25.19" lengthAdjust="spacingAndGlyphs" >Jul '24</text>
<line x1="239.5" y1="763.5" x2="239.5" y2="767.70" stroke="#333" stroke-width="1.1"/>
<text x="239.62" y="778.10" font-size="9.2" fill="#303030" text-anchor="middle" textLength="29.47" lengthAdjust="spacingAndGlyphs" >Oct '24</text>
<line x1="299.5" y1="763.5" x2="299.5" y2="767.70" stroke="#333" stroke-width="1.1"/>
<text x="299.39" y="778.10" font-size="9.2" fill="#303030" text-anchor="middle" textLength="27.94" lengthAdjust="spacingAndGlyphs" >Jan '25</text>
<line x1="357.5" y1="763.5" x2="357.5" y2="767.70" stroke="#333" stroke-width="1.1"/>
<text x="357.86" y="778.10" font-size="9.2" fill="#303030" text-anchor="middle" textLength="29.48" lengthAdjust="spacingAndGlyphs" >Apr '25</text>
<line x1="416.5" y1="763.5" x2="416.5" y2="767.70" stroke="#333" stroke-width="1.1"/>
<text x="416.99" y="778.10" font-size="9.2" fill="#303030" text-anchor="middle" textLength="25.19" lengthAdjust="spacingAndGlyphs" >Jul '25</text>
<line x1="476.5" y1="763.5" x2="476.5" y2="767.70" stroke="#333" stroke-width="1.1"/>
<text x="476.76" y="778.10" font-size="9.2" fill="#303030" text-anchor="middle" textLength="29.47" lengthAdjust="spacingAndGlyphs" >Oct '25</text>
<line x1="536.5" y1="763.5" x2="536.5" y2="767.70" stroke="#333" stroke-width="1.1"/>
<text x="536.53" y="778.10" font-size="9.2" fill="#303030" text-anchor="middle" textLength="27.94" lengthAdjust="spacingAndGlyphs" >Jan '26</text>
<line x1="595.5" y1="763.5" x2="595.5" y2="767.70" stroke="#333" stroke-width="1.1"/>
<text x="595.00" y="778.10" font-size="9.2" fill="#303030" text-anchor="middle" textLength="29.48" lengthAdjust="spacingAndGlyphs" >Apr '26</text>
<text x="61.90" y="487.20" font-size="13.6" font-weight="bold" fill="#1b2a4a" textLength="30.99" lengthAdjust="spacingAndGlyphs" stroke="#1b2a4a" stroke-width="0.25">Italy</text>
<g transform="translate(25.2,628.1) rotate(-90)"><text x="0.00" y="0.00" font-size="9.6" fill="#262626" text-anchor="middle" textLength="84.31" lengthAdjust="spacingAndGlyphs" >Sentiment Z-Score</text></g>
<g transform="translate(634.9,628.1) rotate(-90)"><text x="0.00" y="0.00" font-size="9.6" fill="#262626" text-anchor="middle" textLength="91.58" lengthAdjust="spacingAndGlyphs" >Mfg Production YoY %</text></g>
<line x1="722.4" y1="753.86" x2="1265.3" y2="753.86" stroke="#ebebeb" stroke-width="0.8"/>
<line x1="722.4" y1="706.68" x2="1265.3" y2="706.68" stroke="#ebebeb" stroke-width="0.8"/>
<line x1="722.4" y1="659.50" x2="1265.3" y2="659.50" stroke="#ebebeb" stroke-width="0.8"/>
<line x1="722.4" y1="612.32" x2="1265.3" y2="612.32" stroke="#ebebeb" stroke-width="0.8"/>
<line x1="722.4" y1="565.14" x2="1265.3" y2="565.14" stroke="#ebebeb" stroke-width="0.8"/>
<line x1="722.4" y1="517.96" x2="1265.3" y2="517.96" stroke="#ebebeb" stroke-width="0.8"/>
<rect x="722.4" y="645.35" width="542.90" height="28.31" fill="#eef0f3"/>
<clipPath id="ca_Russia"><rect x="0" y="0" width="1312" height="659.50"/></clipPath>
<clipPath id="cb_Russia"><rect x="0" y="659.50" width="1312" height="816"/></clipPath>
<path d="M722.7,659.50 L722.7,578.7 L724.0,578.02 L725.3,573.7 L726.5,581.83 L727.7,583.7 L728.85,579.32 L730.0,573.7 L731.0,578.01 L732.0,577.0 L732.85,567.16 L733.7,557.0 L735.3,568.7 L736.5,576.5 L737.7,578.7 L738.8,579.86 L739.9,579.54 L741.0,580.3 L742.15,596.55 L743.3,607.0 L744.3,604.73 L745.3,602.0 L746.5,597.95 L747.7,597.0 L748.85,620.08 L750.0,642.0 L751.35,638.39 L752.7,635.3 L753.8,633.16 L754.9,637.77 L756.0,637.0 L757.35,641.45 L758.7,652.0 L759.85,642.89 L761.0,633.7 L762.15,634.02 L763.3,635.3 L764.65,624.77 L766.0,612.0 L767.1,610.89 L768.2,609.49 L769.3,607.0 L770.65,602.43 L772.0,592.0 L773.15,591.96 L774.3,588.7 L775.15,588.21 L776.0,595.3 L777.35,591.55 L778.7,587.0 L779.85,587.47 L781.0,592.0 L781.85,576.42 L782.7,557.0 L784.0,553.38 L785.3,548.7 L786.5,540.08 L787.7,535.3 L788.85,541.55 L790.0,545.3 L791.35,553.05 L792.7,558.7 L794.0,559.47 L795.3,562.0 L796.15,571.71 L797.0,582.0 L797.85,577.92 L798.7,572.0 L800.0,608.7 L801.1,613.55 L802.2,615.16 L803.3,615.3 L804.65,620.61 L806.0,618.7 L807.1,625.45 L808.2,627.13 L809.3,635.3 L810.65,645.17 L812.0,660.3 L813.15,670.62 L814.3,685.3 L815.15,694.12 L816.0,702.7 L817.35,696.72 L818.7,688.7 L819.8,689.64 L820.9,689.18 L822.0,690.3 L823.15,674.45 L824.3,662.0 L825.5,664.13 L826.7,667.0 L827.7,649.32 L828.7,632.0 L829.85,625.59 L831.0,615.3 L832.15,610.54 L833.3,608.7 L834.43,604.94 L835.57,603.07 L836.7,603.7 L837.8,600.84 L838.9,599.49 L840.0,598.7 L841.35,585.2 L842.7,578.7 L843.8,571.12 L844.9,560.58 L846.0,552.0 L847.35,556.86 L848.7,562.0 L849.8,558.56 L850.9,556.44 L852.0,553.7 L853.3,575.3 L854.65,581.34 L856.0,588.7 L857.1,584.37 L858.2,586.24 L859.3,580.3 L860.65,587.65 L862.0,593.7 L863.1,591.97 L864.2,590.93 L865.3,590.3 L866.5,589.04 L867.7,593.7 L868.85,595.19 L870.0,598.7 L871.0,612.56 L872.0,625.3 L873.15,628.04 L874.3,628.7 L875.5,635.22 L876.7,645.3 L878.0,645.83 L879.3,643.7 L880.65,657.21 L882.0,668.7 L883.15,662.73 L884.3,653.7 L885.43,657.12 L886.57,657.44 L887.7,660.3 L888.8,658.3 L889.9,656.24 L891.0,655.3 L892.15,650.93 L893.3,648.7 L894.65,640.05 L896.0,632.0 L897.35,627.59 L898.7,625.3 L899.85,626.35 L901.0,628.7 L902.15,636.18 L903.3,638.7 L904.65,635.16 L906.0,625.3 L907.35,623.59 L908.7,620.3 L909.85,616.17 L911.0,615.3 L912.15,624.8 L913.3,632.0 L914.65,634.69 L916.0,635.3 L917.35,633.62 L918.7,625.3 L919.85,616.47 L921.0,605.3 L922.15,609.86 L923.3,615.3 L924.65,622.65 L926.0,630.3 L927.35,621.56 L928.7,618.7 L929.85,617.91 L931.0,617.0 L932.1,620.37 L933.2,620.06 L934.3,622.0 L935.5,631.77 L936.7,643.7 L938.0,636.27 L939.3,632.0 L940.65,624.63 L942.0,618.7 L943.15,608.38 L944.3,602.0 L945.43,600.39 L946.57,595.58 L947.7,593.7 L948.85,600.27 L950.0,605.3 L951.0,616.73 L952.0,625.3 L953.15,631.39 L954.3,635.3 L955.43,631.67 L956.57,626.59 L957.7,625.3 L958.8,625.51 L959.9,629.74 L961.0,632.0 L962.1,632.88 L963.2,631.58 L964.3,630.3 L965.43,632.64 L966.57,633.64 L967.7,635.3 L968.85,640.36 L970.0,645.3 L971.35,649.68 L972.7,652.0 L973.8,655.1 L974.9,653.53 L976.0,655.3 L977.35,656.56 L978.7,658.7 L980.0,665.3 L981.0,656.5 L982.0,648.7 L983.15,643.42 L984.3,635.3 L985.5,635.83 L986.7,627.0 L988.0,632.37 L989.3,638.7 L990.65,633.83 L992.0,625.3 L993.15,621.62 L994.3,613.7 L995.5,613.0 L996.7,605.3 L997.7,603.37 L998.7,602.0 L999.85,606.7 L1001.0,612.0 L1002.15,606.66 L1003.3,607.0 L1004.65,604.49 L1006.0,605.3 L1007.35,600.91 L1008.7,595.3 L1009.85,592.66 L1011.0,587.0 L1012.15,596.0 L1013.3,602.0 L1014.3,612.47 L1015.3,615.3 L1016.5,608.92 L1017.7,600.3 L1018.8,604.66 L1019.9,606.67 L1021.0,608.7 L1022.1,614.52 L1023.2,618.19 L1024.3,620.3 L1025.43,619.68 L1026.57,618.4 L1027.7,615.3 L1028.8,620.33 L1029.9,622.44 L1031.0,625.3 L1032.1,617.91 L1033.2,615.68 L1034.3,607.0 L1035.43,601.55 L1036.57,594.29 L1037.7,588.7 L1038.8,580.84 L1039.9,577.06 L1041.0,575.3 L1042.1,572.02 L1043.2,572.24 L1044.3,572.0 L1045.43,569.12 L1046.57,569.11 L1047.7,572.0 L1048.8,568.44 L1049.9,566.29 L1051.0,563.7 L1052.1,560.87 L1053.2,556.08 L1054.3,555.3 L1055.43,545.93 L1056.57,539.26 L1057.7,532.0 L1058.85,522.67 L1060.0,512.0 L1061.1,508.32 L1062.2,506.75 L1063.3,505.3 L1064.65,513.65 L1066.0,525.3 L1067.35,534.7 L1068.7,545.3 L1069.8,549.76 L1070.9,553.43 L1072.0,552.0 L1073.1,552.8 L1074.2,549.45 L1075.3,547.0 L1076.5,552.04 L1077.7,553.7 L1078.85,548.87 L1080.0,537.0 L1081.1,536.87 L1082.2,536.25 L1083.3,533.7 L1084.65,544.35 L1086.0,557.0 L1087.35,555.03 L1088.7,558.7 L1089.85,572.07 L1091.0,585.3 L1092.15,590.26 L1093.3,595.3 L1094.65,598.35 L1096.0,598.7 L1097.35,588.2 L1098.7,568.7 L1099.8,572.75 L1100.9,576.76 L1102.0,577.0 L1103.0,574.18 L1104.0,573.28 L1105.0,567.24 L1106.0,567.0 L1107.1,570.59 L1108.2,580.15 L1109.3,585.3 L1110.65,588.37 L1112.0,590.3 L1113.15,600.2 L1114.3,605.3 L1115.5,600.24 L1116.7,595.3 L1118.0,599.49 L1119.3,603.7 L1120.65,601.47 L1122.0,600.3 L1123.1,591.71 L1124.2,588.79 L1125.3,583.7 L1126.5,588.9 L1127.7,592.0 L1129.3,608.7 L1130.65,609.1 L1132.0,610.3 L1133.15,613.47 L1134.3,618.7 L1135.5,613.8 L1136.7,607.0 L1138.0,598.53 L1139.3,592.0 L1140.65,595.05 L1142.0,598.7 L1143.15,585.48 L1144.3,577.0 L1145.5,577.27 L1146.7,582.0 L1148.0,573.09 L1149.3,565.3 L1150.5,560.28 L1151.7,560.3 L1153.3,582.0 L1154.3,592.03 L1155.3,598.7 L1156.5,596.1 L1157.7,592.0 L1158.85,593.16 L1160.0,595.3 L1161.35,597.97 L1162.7,602.0 L1164.0,597.96 L1165.3,595.3 L1166.5,600.45 L1167.7,610.3 L1168.85,612.5 L1170.0,615.3 L1171.35,613.35 L1172.7,613.7 L1174.0,598.04 L1175.3,583.7 L1176.5,593.98 L1177.7,607.0 L1178.85,606.82 L1180.0,605.3 L1181.0,598.34 L1182.0,592.0 L1183.15,587.57 L1184.3,577.0 L1185.5,583.23 L1186.7,587.0 L1188.0,573.78 L1189.3,563.7 L1190.65,566.81 L1192.0,560.3 L1193.1,562.67 L1194.2,562.92 L1195.3,562.0 L1196.5,576.31 L1197.7,587.0 L1198.8,589.16 L1199.9,590.26 L1201.0,595.3 L1202.15,599.7 L1203.3,605.3 L1204.3,623.38 L1205.3,640.3 L1206.5,625.23 L1207.7,615.3 L1208.85,625.66 L1210.0,632.0 L1211.35,631.01 L1212.7,625.3 L1214.0,630.15 L1215.3,632.0 L1216.5,638.9 L1217.7,645.3 L1218.8,647.51 L1219.9,651.92 L1221.0,657.0 L1222.15,656.28 L1223.3,652.0 L1224.65,643.46 L1226.0,638.7 L1227.35,633.79 L1228.7,632.0 L1229.85,626.66 L1231.0,625.3 L1232.15,620.21 L1233.3,620.3 L1234.3,616.78 L1235.3,615.3 L1236.5,618.6 L1237.7,628.7 L1238.85,625.77 L1240.0,625.3 L1241.35,629.7 L1242.7,632.0 L1244.0,634.01 L1245.3,638.7 L1246.5,636.16 L1247.7,633.7 L1249.3,628.7 L1250.15,633.25 L1251.0,638.7 L1252.15,643.63 L1253.3,650.3 L1254.65,654.94 L1256.0,657.0 L1256.85,657.56 L1257.7,665.3 L1258.85,666.34 L1260.0,667.0 L1261.0,671.37 L1262.0,673.7 L1263.3,685.3 L1264.7,692.0 L1264.7,659.50 Z" fill="#3f6cc0" fill-opacity="0.2" clip-path="url(#ca_Russia)"/>
<path d="M722.7,659.50 L722.7,578.7 L724.0,578.02 L725.3,573.7 L726.5,581.83 L727.7,583.7 L728.85,579.32 L730.0,573.7 L731.0,578.01 L732.0,577.0 L732.85,567.16 L733.7,557.0 L735.3,568.7 L736.5,576.5 L737.7,578.7 L738.8,579.86 L739.9,579.54 L741.0,580.3 L742.15,596.55 L743.3,607.0 L744.3,604.73 L745.3,602.0 L746.5,597.95 L747.7,597.0 L748.85,620.08 L750.0,642.0 L751.35,638.39 L752.7,635.3 L753.8,633.16 L754.9,637.77 L756.0,637.0 L757.35,641.45 L758.7,652.0 L759.85,642.89 L761.0,633.7 L762.15,634.02 L763.3,635.3 L764.65,624.77 L766.0,612.0 L767.1,610.89 L768.2,609.49 L769.3,607.0 L770.65,602.43 L772.0,592.0 L773.15,591.96 L774.3,588.7 L775.15,588.21 L776.0,595.3 L777.35,591.55 L778.7,587.0 L779.85,587.47 L781.0,592.0 L781.85,576.42 L782.7,557.0 L784.0,553.38 L785.3,548.7 L786.5,540.08 L787.7,535.3 L788.85,541.55 L790.0,545.3 L791.35,553.05 L792.7,558.7 L794.0,559.47 L795.3,562.0 L796.15,571.71 L797.0,582.0 L797.85,577.92 L798.7,572.0 L800.0,608.7 L801.1,613.55 L802.2,615.16 L803.3,615.3 L804.65,620.61 L806.0,618.7 L807.1,625.45 L808.2,627.13 L809.3,635.3 L810.65,645.17 L812.0,660.3 L813.15,670.62 L814.3,685.3 L815.15,694.12 L816.0,702.7 L817.35,696.72 L818.7,688.7 L819.8,689.64 L820.9,689.18 L822.0,690.3 L823.15,674.45 L824.3,662.0 L825.5,664.13 L826.7,667.0 L827.7,649.32 L828.7,632.0 L829.85,625.59 L831.0,615.3 L832.15,610.54 L833.3,608.7 L834.43,604.94 L835.57,603.07 L836.7,603.7 L837.8,600.84 L838.9,599.49 L840.0,598.7 L841.35,585.2 L842.7,578.7 L843.8,571.12 L844.9,560.58 L846.0,552.0 L847.35,556.86 L848.7,562.0 L849.8,558.56 L850.9,556.44 L852.0,553.7 L853.3,575.3 L854.65,581.34 L856.0,588.7 L857.1,584.37 L858.2,586.24 L859.3,580.3 L860.65,587.65 L862.0,593.7 L863.1,591.97 L864.2,590.93 L865.3,590.3 L866.5,589.04 L867.7,593.7 L868.85,595.19 L870.0,598.7 L871.0,612.56 L872.0,625.3 L873.15,628.04 L874.3,628.7 L875.5,635.22 L876.7,645.3 L878.0,645.83 L879.3,643.7 L880.65,657.21 L882.0,668.7 L883.15,662.73 L884.3,653.7 L885.43,657.12 L886.57,657.44 L887.7,660.3 L888.8,658.3 L889.9,656.24 L891.0,655.3 L892.15,650.93 L893.3,648.7 L894.65,640.05 L896.0,632.0 L897.35,627.59 L898.7,625.3 L899.85,626.35 L901.0,628.7 L902.15,636.18 L903.3,638.7 L904.65,635.16 L906.0,625.3 L907.35,623.59 L908.7,620.3 L909.85,616.17 L911.0,615.3 L912.15,624.8 L913.3,632.0 L914.65,634.69 L916.0,635.3 L917.35,633.62 L918.7,625.3 L919.85,616.47 L921.0,605.3 L922.15,609.86 L923.3,615.3 L924.65,622.65 L926.0,630.3 L927.35,621.56 L928.7,618.7 L929.85,617.91 L931.0,617.0 L932.1,620.37 L933.2,620.06 L934.3,622.0 L935.5,631.77 L936.7,643.7 L938.0,636.27 L939.3,632.0 L940.65,624.63 L942.0,618.7 L943.15,608.38 L944.3,602.0 L945.43,600.39 L946.57,595.58 L947.7,593.7 L948.85,600.27 L950.0,605.3 L951.0,616.73 L952.0,625.3 L953.15,631.39 L954.3,635.3 L955.43,631.67 L956.57,626.59 L957.7,625.3 L958.8,625.51 L959.9,629.74 L961.0,632.0 L962.1,632.88 L963.2,631.58 L964.3,630.3 L965.43,632.64 L966.57,633.64 L967.7,635.3 L968.85,640.36 L970.0,645.3 L971.35,649.68 L972.7,652.0 L973.8,655.1 L974.9,653.53 L976.0,655.3 L977.35,656.56 L978.7,658.7 L980.0,665.3 L981.0,656.5 L982.0,648.7 L983.15,643.42 L984.3,635.3 L985.5,635.83 L986.7,627.0 L988.0,632.37 L989.3,638.7 L990.65,633.83 L992.0,625.3 L993.15,621.62 L994.3,613.7 L995.5,613.0 L996.7,605.3 L997.7,603.37 L998.7,602.0 L999.85,606.7 L1001.0,612.0 L1002.15,606.66 L1003.3,607.0 L1004.65,604.49 L1006.0,605.3 L1007.35,600.91 L1008.7,595.3 L1009.85,592.66 L1011.0,587.0 L1012.15,596.0 L1013.3,602.0 L1014.3,612.47 L1015.3,615.3 L1016.5,608.92 L1017.7,600.3 L1018.8,604.66 L1019.9,606.67 L1021.0,608.7 L1022.1,614.52 L1023.2,618.19 L1024.3,620.3 L1025.43,619.68 L1026.57,618.4 L1027.7,615.3 L1028.8,620.33 L1029.9,622.44 L1031.0,625.3 L1032.1,617.91 L1033.2,615.68 L1034.3,607.0 L1035.43,601.55 L1036.57,594.29 L1037.7,588.7 L1038.8,580.84 L1039.9,577.06 L1041.0,575.3 L1042.1,572.02 L1043.2,572.24 L1044.3,572.0 L1045.43,569.12 L1046.57,569.11 L1047.7,572.0 L1048.8,568.44 L1049.9,566.29 L1051.0,563.7 L1052.1,560.87 L1053.2,556.08 L1054.3,555.3 L1055.43,545.93 L1056.57,539.26 L1057.7,532.0 L1058.85,522.67 L1060.0,512.0 L1061.1,508.32 L1062.2,506.75 L1063.3,505.3 L1064.65,513.65 L1066.0,525.3 L1067.35,534.7 L1068.7,545.3 L1069.8,549.76 L1070.9,553.43 L1072.0,552.0 L1073.1,552.8 L1074.2,549.45 L1075.3,547.0 L1076.5,552.04 L1077.7,553.7 L1078.85,548.87 L1080.0,537.0 L1081.1,536.87 L1082.2,536.25 L1083.3,533.7 L1084.65,544.35 L1086.0,557.0 L1087.35,555.03 L1088.7,558.7 L1089.85,572.07 L1091.0,585.3 L1092.15,590.26 L1093.3,595.3 L1094.65,598.35 L1096.0,598.7 L1097.35,588.2 L1098.7,568.7 L1099.8,572.75 L1100.9,576.76 L1102.0,577.0 L1103.0,574.18 L1104.0,573.28 L1105.0,567.24 L1106.0,567.0 L1107.1,570.59 L1108.2,580.15 L1109.3,585.3 L1110.65,588.37 L1112.0,590.3 L1113.15,600.2 L1114.3,605.3 L1115.5,600.24 L1116.7,595.3 L1118.0,599.49 L1119.3,603.7 L1120.65,601.47 L1122.0,600.3 L1123.1,591.71 L1124.2,588.79 L1125.3,583.7 L1126.5,588.9 L1127.7,592.0 L1129.3,608.7 L1130.65,609.1 L1132.0,610.3 L1133.15,613.47 L1134.3,618.7 L1135.5,613.8 L1136.7,607.0 L1138.0,598.53 L1139.3,592.0 L1140.65,595.05 L1142.0,598.7 L1143.15,585.48 L1144.3,577.0 L1145.5,577.27 L1146.7,582.0 L1148.0,573.09 L1149.3,565.3 L1150.5,560.28 L1151.7,560.3 L1153.3,582.0 L1154.3,592.03 L1155.3,598.7 L1156.5,596.1 L1157.7,592.0 L1158.85,593.16 L1160.0,595.3 L1161.35,597.97 L1162.7,602.0 L1164.0,597.96 L1165.3,595.3 L1166.5,600.45 L1167.7,610.3 L1168.85,612.5 L1170.0,615.3 L1171.35,613.35 L1172.7,613.7 L1174.0,598.04 L1175.3,583.7 L1176.5,593.98 L1177.7,607.0 L1178.85,606.82 L1180.0,605.3 L1181.0,598.34 L1182.0,592.0 L1183.15,587.57 L1184.3,577.0 L1185.5,583.23 L1186.7,587.0 L1188.0,573.78 L1189.3,563.7 L1190.65,566.81 L1192.0,560.3 L1193.1,562.67 L1194.2,562.92 L1195.3,562.0 L1196.5,576.31 L1197.7,587.0 L1198.8,589.16 L1199.9,590.26 L1201.0,595.3 L1202.15,599.7 L1203.3,605.3 L1204.3,623.38 L1205.3,640.3 L1206.5,625.23 L1207.7,615.3 L1208.85,625.66 L1210.0,632.0 L1211.35,631.01 L1212.7,625.3 L1214.0,630.15 L1215.3,632.0 L1216.5,638.9 L1217.7,645.3 L1218.8,647.51 L1219.9,651.92 L1221.0,657.0 L1222.15,656.28 L1223.3,652.0 L1224.65,643.46 L1226.0,638.7 L1227.35,633.79 L1228.7,632.0 L1229.85,626.66 L1231.0,625.3 L1232.15,620.21 L1233.3,620.3 L1234.3,616.78 L1235.3,615.3 L1236.5,618.6 L1237.7,628.7 L1238.85,625.77 L1240.0,625.3 L1241.35,629.7 L1242.7,632.0 L1244.0,634.01 L1245.3,638.7 L1246.5,636.16 L1247.7,633.7 L1249.3,628.7 L1250.15,633.25 L1251.0,638.7 L1252.15,643.63 L1253.3,650.3 L1254.65,654.94 L1256.0,657.0 L1256.85,657.56 L1257.7,665.3 L1258.85,666.34 L1260.0,667.0 L1261.0,671.37 L1262.0,673.7 L1263.3,685.3 L1264.7,692.0 L1264.7,659.50 Z" fill="#c0504d" fill-opacity="0.2" clip-path="url(#cb_Russia)"/>
<line x1="722.4" y1="659.50" x2="1265.3" y2="659.50" stroke="#b9b4bb" stroke-width="0.9"/>
<line x1="1236.6" y1="493.8" x2="1236.6" y2="763.5" stroke="#aaaaaa" stroke-width="0.8" stroke-dasharray="1.2,1.6"/>
<text x="1236.60" y="492.00" font-size="7.6" fill="#666" text-anchor="middle" textLength="26.00" lengthAdjust="spacingAndGlyphs" >Feb '26</text>
<path d="M722.70,564.70 C724.08,564.53 728.50,564.70 731.00,563.70 C733.50,562.70 735.20,561.77 737.70,558.70 C740.20,555.63 743.23,550.03 746.00,545.30 C748.77,540.57 751.52,534.47 754.30,530.30 C757.08,526.13 760.30,522.23 762.70,520.30 C765.10,518.37 766.77,518.13 768.70,518.70 C770.63,519.27 772.25,520.65 774.30,523.70 C776.35,526.75 778.77,532.57 781.00,537.00 C783.23,541.43 785.32,546.97 787.70,550.30 C790.08,553.63 792.80,556.43 795.30,557.00 C797.80,557.57 800.08,555.53 802.70,553.70 C805.32,551.87 808.33,547.78 811.00,546.00 C813.67,544.22 816.20,542.83 818.70,543.00 C821.20,543.17 823.67,544.38 826.00,547.00 C828.33,549.62 830.48,554.25 832.70,558.70 C834.92,563.15 837.08,569.32 839.30,573.70 C841.52,578.08 843.77,581.67 846.00,585.00 C848.23,588.33 850.20,591.32 852.70,593.70 C855.20,596.08 858.23,597.63 861.00,599.30 C863.77,600.97 866.80,601.30 869.30,603.70 C871.80,606.10 873.77,610.10 876.00,613.70 C878.23,617.30 880.48,620.87 882.70,625.30 C884.92,629.73 887.08,635.73 889.30,640.30 C891.52,644.87 893.50,649.53 896.00,652.70 C898.50,655.87 901.80,659.13 904.30,659.30 C906.80,659.47 908.77,657.70 911.00,653.70 C913.23,649.70 915.48,642.80 917.70,635.30 C919.92,627.80 922.08,617.30 924.30,608.70 C926.52,600.10 928.77,590.10 931.00,583.70 C933.23,577.30 935.20,573.92 937.70,570.30 C940.20,566.68 943.23,565.88 946.00,562.00 C948.77,558.12 951.52,551.55 954.30,547.00 C957.08,542.45 960.47,536.92 962.70,534.70 C964.93,532.48 965.77,532.20 967.70,533.70 C969.63,535.20 972.37,539.27 974.30,543.70 C976.23,548.13 977.35,553.37 979.30,560.30 C981.25,567.23 984.05,576.68 986.00,585.30 C987.95,593.92 989.33,604.22 991.00,612.00 C992.67,619.78 994.17,626.17 996.00,632.00 C997.83,637.83 1000.05,643.12 1002.00,647.00 C1003.95,650.88 1005.37,653.35 1007.70,655.30 C1010.03,657.25 1012.95,658.25 1016.00,658.70 C1019.05,659.15 1022.67,658.17 1026.00,658.00 C1029.33,657.83 1032.67,657.48 1036.00,657.70 C1039.33,657.92 1042.67,659.13 1046.00,659.30 C1049.33,659.47 1052.67,659.47 1056.00,658.70 C1059.33,657.93 1062.67,656.10 1066.00,654.70 C1069.33,653.30 1072.95,651.30 1076.00,650.30 C1079.05,649.30 1081.52,648.53 1084.30,648.70 C1087.08,648.87 1089.92,650.08 1092.70,651.30 C1095.48,652.52 1097.78,654.38 1101.00,656.00 C1104.22,657.62 1108.12,659.33 1112.00,661.00 C1115.88,662.67 1120.58,664.28 1124.30,666.00 C1128.02,667.72 1130.97,669.85 1134.30,671.30 C1137.63,672.75 1141.23,674.30 1144.30,674.70 C1147.37,675.10 1149.63,674.32 1152.70,673.70 C1155.77,673.08 1159.65,671.45 1162.70,671.00 C1165.75,670.55 1168.23,671.33 1171.00,671.00 C1173.77,670.67 1176.52,670.78 1179.30,669.00 C1182.08,667.22 1184.92,663.97 1187.70,660.30 C1190.48,656.63 1193.50,649.60 1196.00,647.00 C1198.50,644.40 1200.58,643.98 1202.70,644.70 C1204.82,645.42 1206.93,646.75 1208.70,651.30 C1210.47,655.85 1211.80,665.22 1213.30,672.00 C1214.80,678.78 1216.13,685.33 1217.70,692.00 C1219.27,698.67 1221.03,705.88 1222.70,712.00 C1224.37,718.12 1226.15,724.82 1227.70,728.70 C1229.25,732.58 1230.62,733.92 1232.00,735.30 C1233.38,736.68 1235.33,736.72 1236.00,737.00" fill="none" stroke="#3a3a3a" stroke-width="2.5" stroke-linejoin="round" stroke-linecap="round"/>
<path d="M722.7,578.7 L724.0,578.02 L725.3,573.7 L726.5,581.83 L727.7,583.7 L728.85,579.32 L730.0,573.7 L731.0,578.01 L732.0,577.0 L732.85,567.16 L733.7,557.0 L735.3,568.7 L736.5,576.5 L737.7,578.7 L738.8,579.86 L739.9,579.54 L741.0,580.3 L742.15,596.55 L743.3,607.0 L744.3,604.73 L745.3,602.0 L746.5,597.95 L747.7,597.0 L748.85,620.08 L750.0,642.0 L751.35,638.39 L752.7,635.3 L753.8,633.16 L754.9,637.77 L756.0,637.0 L757.35,641.45 L758.7,652.0 L759.85,642.89 L761.0,633.7 L762.15,634.02 L763.3,635.3 L764.65,624.77 L766.0,612.0 L767.1,610.89 L768.2,609.49 L769.3,607.0 L770.65,602.43 L772.0,592.0 L773.15,591.96 L774.3,588.7 L775.15,588.21 L776.0,595.3 L777.35,591.55 L778.7,587.0 L779.85,587.47 L781.0,592.0 L781.85,576.42 L782.7,557.0 L784.0,553.38 L785.3,548.7 L786.5,540.08 L787.7,535.3 L788.85,541.55 L790.0,545.3 L791.35,553.05 L792.7,558.7 L794.0,559.47 L795.3,562.0 L796.15,571.71 L797.0,582.0 L797.85,577.92 L798.7,572.0 L800.0,608.7 L801.1,613.55 L802.2,615.16 L803.3,615.3 L804.65,620.61 L806.0,618.7 L807.1,625.45 L808.2,627.13 L809.3,635.3 L810.65,645.17 L812.0,660.3 L813.15,670.62 L814.3,685.3 L815.15,694.12 L816.0,702.7 L817.35,696.72 L818.7,688.7 L819.8,689.64 L820.9,689.18 L822.0,690.3 L823.15,674.45 L824.3,662.0 L825.5,664.13 L826.7,667.0 L827.7,649.32 L828.7,632.0 L829.85,625.59 L831.0,615.3 L832.15,610.54 L833.3,608.7 L834.43,604.94 L835.57,603.07 L836.7,603.7 L837.8,600.84 L838.9,599.49 L840.0,598.7 L841.35,585.2 L842.7,578.7 L843.8,571.12 L844.9,560.58 L846.0,552.0 L847.35,556.86 L848.7,562.0 L849.8,558.56 L850.9,556.44 L852.0,553.7 L853.3,575.3 L854.65,581.34 L856.0,588.7 L857.1,584.37 L858.2,586.24 L859.3,580.3 L860.65,587.65 L862.0,593.7 L863.1,591.97 L864.2,590.93 L865.3,590.3 L866.5,589.04 L867.7,593.7 L868.85,595.19 L870.0,598.7 L871.0,612.56 L872.0,625.3 L873.15,628.04 L874.3,628.7 L875.5,635.22 L876.7,645.3 L878.0,645.83 L879.3,643.7 L880.65,657.21 L882.0,668.7 L883.15,662.73 L884.3,653.7 L885.43,657.12 L886.57,657.44 L887.7,660.3 L888.8,658.3 L889.9,656.24 L891.0,655.3 L892.15,650.93 L893.3,648.7 L894.65,640.05 L896.0,632.0 L897.35,627.59 L898.7,625.3 L899.85,626.35 L901.0,628.7 L902.15,636.18 L903.3,638.7 L904.65,635.16 L906.0,625.3 L907.35,623.59 L908.7,620.3 L909.85,616.17 L911.0,615.3 L912.15,624.8 L913.3,632.0 L914.65,634.69 L916.0,635.3 L917.35,633.62 L918.7,625.3 L919.85,616.47 L921.0,605.3 L922.15,609.86 L923.3,615.3 L924.65,622.65 L926.0,630.3 L927.35,621.56 L928.7,618.7 L929.85,617.91 L931.0,617.0 L932.1,620.37 L933.2,620.06 L934.3,622.0 L935.5,631.77 L936.7,643.7 L938.0,636.27 L939.3,632.0 L940.65,624.63 L942.0,618.7 L943.15,608.38 L944.3,602.0 L945.43,600.39 L946.57,595.58 L947.7,593.7 L948.85,600.27 L950.0,605.3 L951.0,616.73 L952.0,625.3 L953.15,631.39 L954.3,635.3 L955.43,631.67 L956.57,626.59 L957.7,625.3 L958.8,625.51 L959.9,629.74 L961.0,632.0 L962.1,632.88 L963.2,631.58 L964.3,630.3 L965.43,632.64 L966.57,633.64 L967.7,635.3 L968.85,640.36 L970.0,645.3 L971.35,649.68 L972.7,652.0 L973.8,655.1 L974.9,653.53 L976.0,655.3 L977.35,656.56 L978.7,658.7 L980.0,665.3 L981.0,656.5 L982.0,648.7 L983.15,643.42 L984.3,635.3 L985.5,635.83 L986.7,627.0 L988.0,632.37 L989.3,638.7 L990.65,633.83 L992.0,625.3 L993.15,621.62 L994.3,613.7 L995.5,613.0 L996.7,605.3 L997.7,603.37 L998.7,602.0 L999.85,606.7 L1001.0,612.0 L1002.15,606.66 L1003.3,607.0 L1004.65,604.49 L1006.0,605.3 L1007.35,600.91 L1008.7,595.3 L1009.85,592.66 L1011.0,587.0 L1012.15,596.0 L1013.3,602.0 L1014.3,612.47 L1015.3,615.3 L1016.5,608.92 L1017.7,600.3 L1018.8,604.66 L1019.9,606.67 L1021.0,608.7 L1022.1,614.52 L1023.2,618.19 L1024.3,620.3 L1025.43,619.68 L1026.57,618.4 L1027.7,615.3 L1028.8,620.33 L1029.9,622.44 L1031.0,625.3 L1032.1,617.91 L1033.2,615.68 L1034.3,607.0 L1035.43,601.55 L1036.57,594.29 L1037.7,588.7 L1038.8,580.84 L1039.9,577.06 L1041.0,575.3 L1042.1,572.02 L1043.2,572.24 L1044.3,572.0 L1045.43,569.12 L1046.57,569.11 L1047.7,572.0 L1048.8,568.44 L1049.9,566.29 L1051.0,563.7 L1052.1,560.87 L1053.2,556.08 L1054.3,555.3 L1055.43,545.93 L1056.57,539.26 L1057.7,532.0 L1058.85,522.67 L1060.0,512.0 L1061.1,508.32 L1062.2,506.75 L1063.3,505.3 L1064.65,513.65 L1066.0,525.3 L1067.35,534.7 L1068.7,545.3 L1069.8,549.76 L1070.9,553.43 L1072.0,552.0 L1073.1,552.8 L1074.2,549.45 L1075.3,547.0 L1076.5,552.04 L1077.7,553.7 L1078.85,548.87 L1080.0,537.0 L1081.1,536.87 L1082.2,536.25 L1083.3,533.7 L1084.65,544.35 L1086.0,557.0 L1087.35,555.03 L1088.7,558.7 L1089.85,572.07 L1091.0,585.3 L1092.15,590.26 L1093.3,595.3 L1094.65,598.35 L1096.0,598.7 L1097.35,588.2 L1098.7,568.7 L1099.8,572.75 L1100.9,576.76 L1102.0,577.0 L1103.0,574.18 L1104.0,573.28 L1105.0,567.24 L1106.0,567.0 L1107.1,570.59 L1108.2,580.15 L1109.3,585.3 L1110.65,588.37 L1112.0,590.3 L1113.15,600.2 L1114.3,605.3 L1115.5,600.24 L1116.7,595.3 L1118.0,599.49 L1119.3,603.7 L1120.65,601.47 L1122.0,600.3 L1123.1,591.71 L1124.2,588.79 L1125.3,583.7 L1126.5,588.9 L1127.7,592.0 L1129.3,608.7 L1130.65,609.1 L1132.0,610.3 L1133.15,613.47 L1134.3,618.7 L1135.5,613.8 L1136.7,607.0 L1138.0,598.53 L1139.3,592.0 L1140.65,595.05 L1142.0,598.7 L1143.15,585.48 L1144.3,577.0 L1145.5,577.27 L1146.7,582.0 L1148.0,573.09 L1149.3,565.3 L1150.5,560.28 L1151.7,560.3 L1153.3,582.0 L1154.3,592.03 L1155.3,598.7 L1156.5,596.1 L1157.7,592.0 L1158.85,593.16 L1160.0,595.3 L1161.35,597.97 L1162.7,602.0 L1164.0,597.96 L1165.3,595.3 L1166.5,600.45 L1167.7,610.3 L1168.85,612.5 L1170.0,615.3 L1171.35,613.35 L1172.7,613.7 L1174.0,598.04 L1175.3,583.7 L1176.5,593.98 L1177.7,607.0 L1178.85,606.82 L1180.0,605.3 L1181.0,598.34 L1182.0,592.0 L1183.15,587.57 L1184.3,577.0 L1185.5,583.23 L1186.7,587.0 L1188.0,573.78 L1189.3,563.7 L1190.65,566.81 L1192.0,560.3 L1193.1,562.67 L1194.2,562.92 L1195.3,562.0 L1196.5,576.31 L1197.7,587.0 L1198.8,589.16 L1199.9,590.26 L1201.0,595.3 L1202.15,599.7 L1203.3,605.3 L1204.3,623.38 L1205.3,640.3 L1206.5,625.23 L1207.7,615.3 L1208.85,625.66 L1210.0,632.0 L1211.35,631.01 L1212.7,625.3 L1214.0,630.15 L1215.3,632.0 L1216.5,638.9 L1217.7,645.3 L1218.8,647.51 L1219.9,651.92 L1221.0,657.0 L1222.15,656.28 L1223.3,652.0 L1224.65,643.46 L1226.0,638.7 L1227.35,633.79 L1228.7,632.0 L1229.85,626.66 L1231.0,625.3 L1232.15,620.21 L1233.3,620.3 L1234.3,616.78 L1235.3,615.3 L1236.5,618.6 L1237.7,628.7 L1238.85,625.77 L1240.0,625.3 L1241.35,629.7 L1242.7,632.0 L1244.0,634.01 L1245.3,638.7 L1246.5,636.16 L1247.7,633.7 L1249.3,628.7 L1250.15,633.25 L1251.0,638.7 L1252.15,643.63 L1253.3,650.3 L1254.65,654.94 L1256.0,657.0 L1256.85,657.56 L1257.7,665.3 L1258.85,666.34 L1260.0,667.0 L1261.0,671.37 L1262.0,673.7 L1263.3,685.3 L1264.7,692.0" fill="none" stroke="#3b63a0" stroke-width="2.4" stroke-linejoin="round"/>
<line x1="722.4" y1="492.8" x2="722.4" y2="763.5" stroke="#777" stroke-width="1.1"/>
<line x1="721.9" y1="763.5" x2="1265.3" y2="763.5" stroke="#444" stroke-width="1.1"/>
<line x1="717.80" y1="753.5" x2="722.4" y2="753.5" stroke="#333" stroke-width="1.1"/>
<text x="713.30" y="757.36" font-size="9.6" fill="#303030" text-anchor="end" textLength="12.38" lengthAdjust="spacingAndGlyphs" >−2</text>
<line x1="717.80" y1="706.5" x2="722.4" y2="706.5" stroke="#333" stroke-width="1.1"/>
<text x="713.30" y="710.18" font-size="9.6" fill="#303030" text-anchor="end" textLength="12.38" lengthAdjust="spacingAndGlyphs" >−1</text>
<line x1="717.80" y1="659.5" x2="722.4" y2="659.5" stroke="#333" stroke-width="1.1"/>
<text x="713.30" y="663.00" font-size="9.6" fill="#303030" text-anchor="end" textLength="5.34" lengthAdjust="spacingAndGlyphs" >0</text>
<line x1="717.80" y1="612.5" x2="722.4" y2="612.5" stroke="#333" stroke-width="1.1"/>
<text x="713.30" y="615.82" font-size="9.6" fill="#303030" text-anchor="end" textLength="5.34" lengthAdjust="spacingAndGlyphs" >1</text>
<line x1="717.80" y1="565.5" x2="722.4" y2="565.5" stroke="#333" stroke-width="1.1"/>
<text x="713.30" y="568.64" font-size="9.6" fill="#303030" text-anchor="end" textLength="5.34" lengthAdjust="spacingAndGlyphs" >2</text>
<line x1="717.80" y1="517.5" x2="722.4" y2="517.5" stroke="#333" stroke-width="1.1"/>
<text x="713.30" y="521.46" font-size="9.6" fill="#303030" text-anchor="end" textLength="5.34" lengthAdjust="spacingAndGlyphs" >3</text>
<line x1="1265.3" y1="746.5" x2="1269.90" y2="746.5" stroke="#333" stroke-width="1.1"/>
<text x="1273.90" y="749.82" font-size="9.6" fill="#303030" textLength="12.38" lengthAdjust="spacingAndGlyphs" >−2</text>
<line x1="1265.3" y1="713.5" x2="1269.90" y2="713.5" stroke="#333" stroke-width="1.1"/>
<text x="1273.90" y="716.90" font-size="9.6" fill="#303030" textLength="5.34" lengthAdjust="spacingAndGlyphs" >0</text>
<line x1="1265.3" y1="680.5" x2="1269.90" y2="680.5" stroke="#333" stroke-width="1.1"/>
<text x="1273.90" y="683.98" font-size="9.6" fill="#303030" textLength="5.34" lengthAdjust="spacingAndGlyphs" >2</text>
<line x1="1265.3" y1="647.5" x2="1269.90" y2="647.5" stroke="#333" stroke-width="1.1"/>
<text x="1273.90" y="651.06" font-size="9.6" fill="#303030" textLength="5.34" lengthAdjust="spacingAndGlyphs" >4</text>
<line x1="1265.3" y1="614.5" x2="1269.90" y2="614.5" stroke="#333" stroke-width="1.1"/>
<text x="1273.90" y="618.14" font-size="9.6" fill="#303030" textLength="5.34" lengthAdjust="spacingAndGlyphs" >6</text>
<line x1="1265.3" y1="581.5" x2="1269.90" y2="581.5" stroke="#333" stroke-width="1.1"/>
<text x="1273.90" y="585.22" font-size="9.6" fill="#303030" textLength="5.34" lengthAdjust="spacingAndGlyphs" >8</text>
<line x1="1265.3" y1="548.5" x2="1269.90" y2="548.5" stroke="#333" stroke-width="1.1"/>
<text x="1273.90" y="552.30" font-size="9.6" fill="#303030" textLength="10.69" lengthAdjust="spacingAndGlyphs" >10</text>
<line x1="1265.3" y1="515.5" x2="1269.90" y2="515.5" stroke="#333" stroke-width="1.1"/>
<text x="1273.90" y="519.38" font-size="9.6" fill="#303030" textLength="10.69" lengthAdjust="spacingAndGlyphs" >12</text>
<line x1="722.5" y1="763.5" x2="722.5" y2="767.70" stroke="#333" stroke-width="1.1"/>
<text x="722.40" y="778.10" font-size="9.2" fill="#303030" text-anchor="middle" textLength="27.94" lengthAdjust="spacingAndGlyphs" >Jan '24</text>
<line x1="781.5" y1="763.5" x2="781.5" y2="767.70" stroke="#333" stroke-width="1.1"/>
<text x="781.77" y="778.10" font-size="9.2" fill="#303030" text-anchor="middle" textLength="29.48" lengthAdjust="spacingAndGlyphs" >Apr '24</text>
<line x1="841.5" y1="763.5" x2="841.5" y2="767.70" stroke="#333" stroke-width="1.1"/>
<text x="841.14" y="778.10" font-size="9.2" fill="#303030" text-anchor="middle" textLength="25.19" lengthAdjust="spacingAndGlyphs" >Jul '24</text>
<line x1="901.5" y1="763.5" x2="901.5" y2="767.70" stroke="#333" stroke-width="1.1"/>
<text x="901.16" y="778.10" font-size="9.2" fill="#303030" text-anchor="middle" textLength="29.47" lengthAdjust="spacingAndGlyphs" >Oct '24</text>
<line x1="961.5" y1="763.5" x2="961.5" y2="767.70" stroke="#333" stroke-width="1.1"/>
<text x="961.18" y="778.10" font-size="9.2" fill="#303030" text-anchor="middle" textLength="27.94" lengthAdjust="spacingAndGlyphs" >Jan '25</text>
<line x1="1019.5" y1="763.5" x2="1019.5" y2="767.70" stroke="#333" stroke-width="1.1"/>
<text x="1019.89" y="778.10" font-size="9.2" fill="#303030" text-anchor="middle" textLength="29.48" lengthAdjust="spacingAndGlyphs" >Apr '25</text>
<line x1="1079.5" y1="763.5" x2="1079.5" y2="767.70" stroke="#333" stroke-width="1.1"/>
<text x="1079.26" y="778.10" font-size="9.2" fill="#303030" text-anchor="middle" textLength="25.19" lengthAdjust="spacingAndGlyphs" >Jul '25</text>
<line x1="1139.5" y1="763.5" x2="1139.5" y2="767.70" stroke="#333" stroke-width="1.1"/>
<text x="1139.28" y="778.10" font-size="9.2" fill="#303030" text-anchor="middle" textLength="29.47" lengthAdjust="spacingAndGlyphs" >Oct '25</text>
<line x1="1199.5" y1="763.5" x2="1199.5" y2="767.70" stroke="#333" stroke-width="1.1"/>
<text x="1199.30" y="778.10" font-size="9.2" fill="#303030" text-anchor="middle" textLength="27.94" lengthAdjust="spacingAndGlyphs" >Jan '26</text>
<line x1="1258.5" y1="763.5" x2="1258.5" y2="767.70" stroke="#333" stroke-width="1.1"/>
<text x="1258.02" y="778.10" font-size="9.2" fill="#303030" text-anchor="middle" textLength="29.48" lengthAdjust="spacingAndGlyphs" >Apr '26</text>
<text x="722.70" y="487.20" font-size="13.6" font-weight="bold" fill="#1b2a4a" textLength="45.39" lengthAdjust="spacingAndGlyphs" stroke="#1b2a4a" stroke-width="0.25">Russia</text>
<g transform="translate(695.4,628.1) rotate(-90)"><text x="0.00" y="0.00" font-size="9.6" fill="#262626" text-anchor="middle" textLength="84.31" lengthAdjust="spacingAndGlyphs" >Sentiment Z-Score</text></g>
<g transform="translate(1296,628.1) rotate(-90)"><text x="0.00" y="0.00" font-size="9.6" fill="#262626" text-anchor="middle" textLength="91.58" lengthAdjust="spacingAndGlyphs" >Mfg Production YoY %</text></g>
<path d="M187.40,17.20 L179.50,30.88 L163.70,30.88 L155.80,17.20 L163.70,3.52 L179.50,3.52 Z" fill="#234775"/>
<path d="M162.40,31.70 L154.50,45.38 L138.70,45.38 L130.80,31.70 L138.70,18.02 L154.50,18.02 Z" fill="#1f3d68"/>
<path d="M212.40,31.70 L204.50,45.38 L188.70,45.38 L180.80,31.70 L188.70,18.02 L204.50,18.02 Z" fill="#4a84bf"/>
<path d="M187.40,46.20 L179.50,59.88 L163.70,59.88 L155.80,46.20 L163.70,32.52 L179.50,32.52 Z" fill="#2c5a8a"/>
<path d="M212.40,60.60 L204.50,74.28 L188.70,74.28 L180.80,60.60 L188.70,46.92 L204.50,46.92 Z" fill="#5aa3e0"/>
<path d="M187.40,75.00 L179.50,88.68 L163.70,88.68 L155.80,75.00 L163.70,61.32 L179.50,61.32 Z" fill="#3a6ba3"/>
<line x1="267.8" y1="804.3" x2="286.7" y2="804.3" stroke="#3b63a0" stroke-width="2.2"/>
<text x="293.90" y="807.60" font-size="10" fill="#262626" textLength="138.31" lengthAdjust="spacingAndGlyphs" >Combined sentiment (45D z)</text>
<rect x="454" y="801.3" width="17.2" height="6.2" fill="#3f6cc0" fill-opacity="0.25"/>
<text x="479.00" y="807.60" font-size="10" fill="#262626" textLength="131.78" lengthAdjust="spacingAndGlyphs" >Bullish regime (above zero)</text>
<rect x="632.4" y="801.3" width="17.2" height="6.2" fill="#c0504d" fill-opacity="0.25"/>
<text x="657.50" y="807.60" font-size="10" fill="#262626" textLength="135.05" lengthAdjust="spacingAndGlyphs" >Bearish regime (below zero)</text>
<line x1="813.6" y1="804.3" x2="833.5" y2="804.3" stroke="#3a3a3a" stroke-width="2.2"/>
<text x="840.30" y="807.60" font-size="10" fill="#262626" textLength="177.70" lengthAdjust="spacingAndGlyphs" >Mfg Production YoY % &#160;(ends Feb '26)</text>
</svg>
</body></html>
